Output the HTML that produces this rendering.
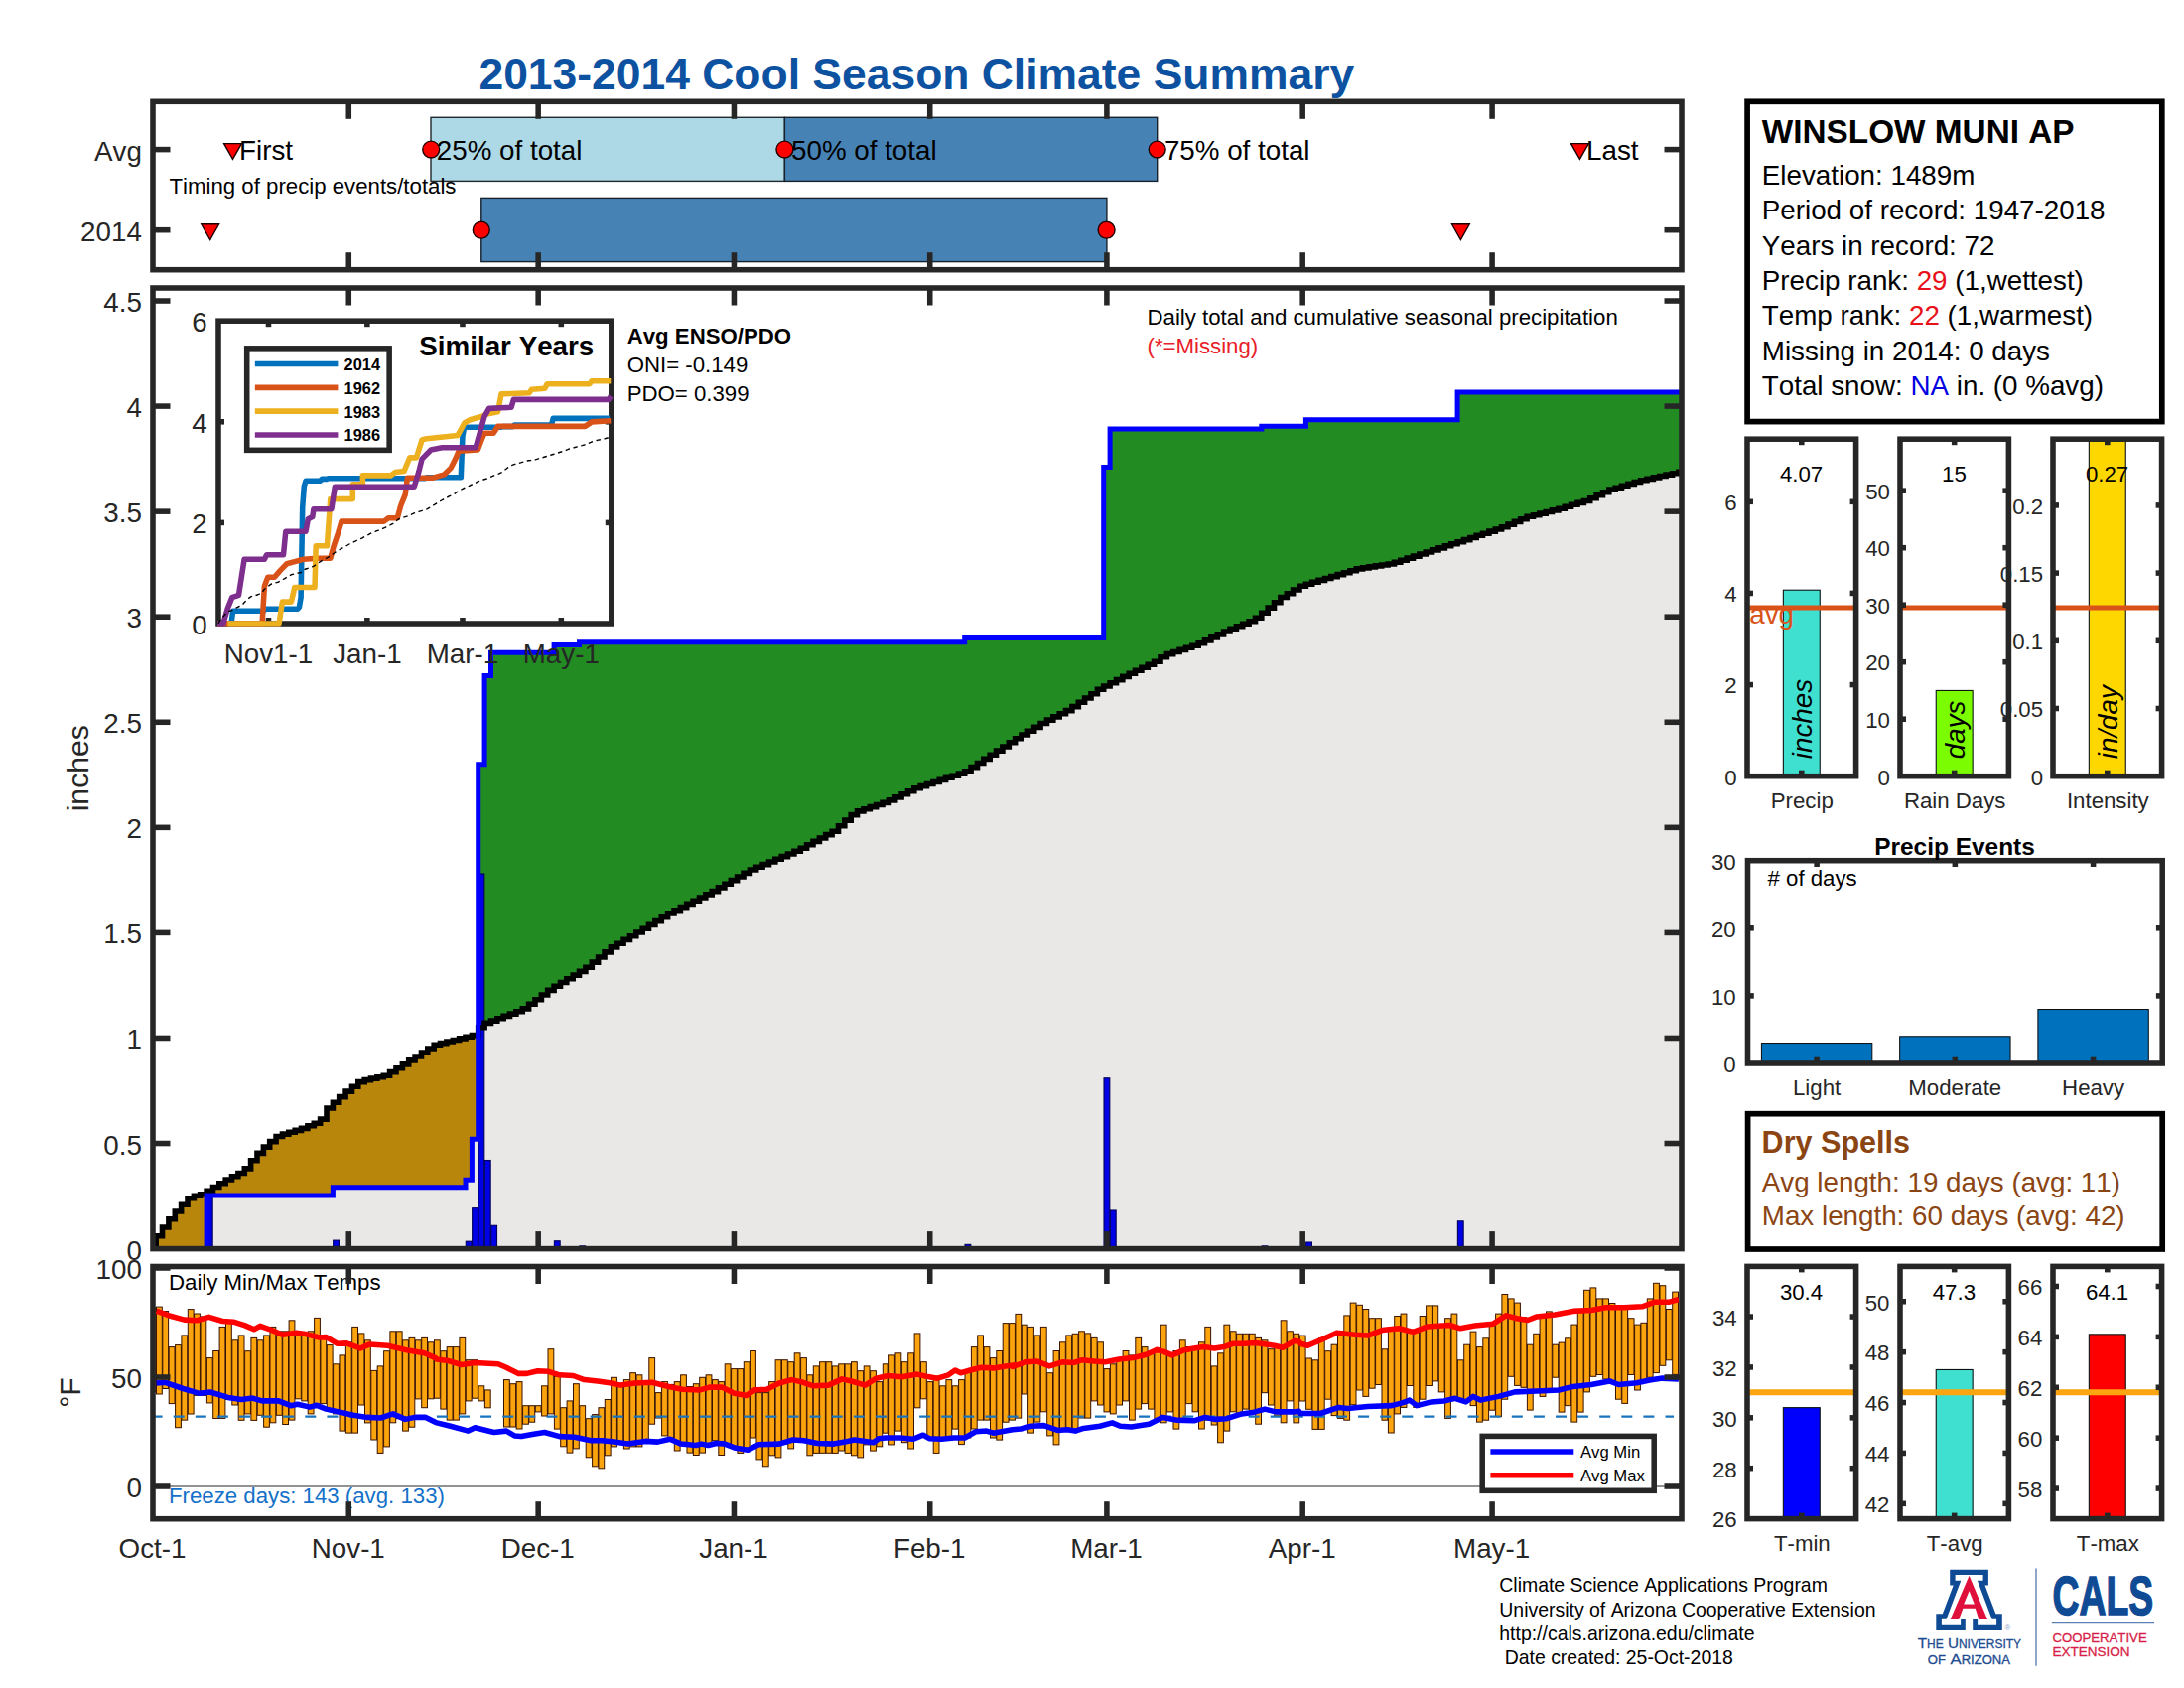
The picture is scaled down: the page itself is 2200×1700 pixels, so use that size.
<!DOCTYPE html>
<html lang="en"><head><meta charset="utf-8"><title>2013-2014 Cool Season Climate Summary</title>
<style>html,body{margin:0;padding:0;background:#fff;}svg{display:block;}</style></head>
<body>
<svg width="2200" height="1700" viewBox="0 0 2200 1700" font-family="'Liberation Sans', sans-serif" style="font-kerning:none">
<rect width="2200" height="1700" fill="#fff"/>
<defs>
<clipPath id="cm"><rect x="154" y="290" width="1540" height="967.6"/></clipPath>
<clipPath id="ct"><rect x="154" y="1275.5" width="1540" height="254.2"/></clipPath>
<clipPath id="ci"><rect x="217.8" y="320.4" width="400.8" height="310.4"/></clipPath>
</defs>
<text x="923.3" y="90.3" font-size="44.44" text-anchor="middle" font-weight="bold" fill="#0D52A0">2013-2014 Cool Season Climate Summary</text>
<g id="top">
<rect x="434.00" y="118.30" width="356.36" height="64.10" fill="#ADD8E6" stroke="#20282c" stroke-width="1.4"/>
<rect x="790.36" y="118.30" width="375.34" height="64.10" fill="#4682B4" stroke="#18222c" stroke-width="1.4"/>
<rect x="484.80" y="199.40" width="630.10" height="64.20" fill="#4682B4" stroke="#18222c" stroke-width="1.4"/>
<path d="M225.6 144.6 L243.4 144.6 L234.5 160.3 Z" fill="#FF0000" stroke="#1c0000" stroke-width="1.4" stroke-linejoin="miter"/>
<text x="241.1" y="161.2" font-size="27.78" fill="#000">First</text>
<circle cx="434.2" cy="150.6" r="8.45" fill="#FF0000" stroke="#200000" stroke-width="1.4"/>
<text x="439.8" y="161.2" font-size="27.78" fill="#000">25% of total</text>
<circle cx="790.4" cy="150.6" r="8.45" fill="#FF0000" stroke="#200000" stroke-width="1.4"/>
<text x="797.0" y="161.2" font-size="27.78" fill="#000">50% of total</text>
<circle cx="1165.7" cy="150.6" r="8.45" fill="#FF0000" stroke="#200000" stroke-width="1.4"/>
<text x="1172.9" y="161.2" font-size="27.78" fill="#000">75% of total</text>
<path d="M1582.5 144.6 L1600.3 144.6 L1591.4 160.3 Z" fill="#FF0000" stroke="#1c0000" stroke-width="1.4" stroke-linejoin="miter"/>
<text x="1598.0" y="161.2" font-size="27.78" fill="#000">Last</text>
<path d="M202.8 225.8 L220.6 225.8 L211.7 241.5 Z" fill="#FF0000" stroke="#1c0000" stroke-width="1.4" stroke-linejoin="miter"/>
<circle cx="484.8" cy="231.7" r="8.45" fill="#FF0000" stroke="#200000" stroke-width="1.4"/>
<circle cx="1114.6" cy="231.7" r="8.45" fill="#FF0000" stroke="#200000" stroke-width="1.4"/>
<path d="M1462.5 225.8 L1480.3 225.8 L1471.4 241.5 Z" fill="#FF0000" stroke="#1c0000" stroke-width="1.4" stroke-linejoin="miter"/>
<text x="170.5" y="195.3" font-size="22.22" fill="#000">Timing of precip events/totals</text>
<line x1="351.27" y1="102.30" x2="351.27" y2="119.80" stroke="#262626" stroke-width="5.56"/>
<line x1="351.27" y1="271.70" x2="351.27" y2="254.20" stroke="#262626" stroke-width="5.56"/>
<line x1="542.18" y1="102.30" x2="542.18" y2="119.80" stroke="#262626" stroke-width="5.56"/>
<line x1="542.18" y1="271.70" x2="542.18" y2="254.20" stroke="#262626" stroke-width="5.56"/>
<line x1="739.45" y1="102.30" x2="739.45" y2="119.80" stroke="#262626" stroke-width="5.56"/>
<line x1="739.45" y1="271.70" x2="739.45" y2="254.20" stroke="#262626" stroke-width="5.56"/>
<line x1="936.73" y1="102.30" x2="936.73" y2="119.80" stroke="#262626" stroke-width="5.56"/>
<line x1="936.73" y1="271.70" x2="936.73" y2="254.20" stroke="#262626" stroke-width="5.56"/>
<line x1="1114.91" y1="102.30" x2="1114.91" y2="119.80" stroke="#262626" stroke-width="5.56"/>
<line x1="1114.91" y1="271.70" x2="1114.91" y2="254.20" stroke="#262626" stroke-width="5.56"/>
<line x1="1312.18" y1="102.30" x2="1312.18" y2="119.80" stroke="#262626" stroke-width="5.56"/>
<line x1="1312.18" y1="271.70" x2="1312.18" y2="254.20" stroke="#262626" stroke-width="5.56"/>
<line x1="1503.09" y1="102.30" x2="1503.09" y2="119.80" stroke="#262626" stroke-width="5.56"/>
<line x1="1503.09" y1="271.70" x2="1503.09" y2="254.20" stroke="#262626" stroke-width="5.56"/>
<line x1="154.00" y1="150.60" x2="171.50" y2="150.60" stroke="#262626" stroke-width="5.56"/>
<line x1="1694.00" y1="150.60" x2="1676.50" y2="150.60" stroke="#262626" stroke-width="5.56"/>
<line x1="154.00" y1="231.70" x2="171.50" y2="231.70" stroke="#262626" stroke-width="5.56"/>
<line x1="1694.00" y1="231.70" x2="1676.50" y2="231.70" stroke="#262626" stroke-width="5.56"/>
<rect x="154.00" y="102.30" width="1540.00" height="169.40" fill="none" stroke="#262626" stroke-width="5.56"/>
<text x="142.9" y="161.5" font-size="27.78" text-anchor="end" fill="#262626">Avg</text>
<text x="142.9" y="242.6" font-size="27.78" text-anchor="end" fill="#262626">2014</text>
</g>
<g id="main">
<g clip-path="url(#cm)">
<path d="M154.0 1257.6 L154.0 1257.6 L157.2 1257.6 L157.2 1257.6 L163.5 1257.6 L163.5 1257.6 L169.9 1257.6 L169.9 1257.6 L176.3 1257.6 L176.3 1257.6 L182.6 1257.6 L182.6 1257.6 L189.0 1257.6 L189.0 1257.6 L195.4 1257.6 L195.4 1257.6 L201.7 1257.6 L201.7 1257.6 L208.1 1257.6 L208.1 1204.1 L214.5 1204.1 L214.5 1204.1 L220.8 1204.1 L220.8 1204.1 L227.2 1204.1 L227.2 1204.1 L233.5 1204.1 L233.5 1204.1 L239.9 1204.1 L239.9 1204.1 L246.3 1204.1 L246.3 1204.1 L252.6 1204.1 L252.6 1204.1 L259.0 1204.1 L259.0 1204.1 L265.4 1204.1 L265.4 1204.1 L271.7 1204.1 L271.7 1204.1 L278.1 1204.1 L278.1 1204.1 L284.5 1204.1 L284.5 1204.1 L290.8 1204.1 L290.8 1204.1 L297.2 1204.1 L297.2 1204.1 L303.5 1204.1 L303.5 1204.1 L309.9 1204.1 L309.9 1204.1 L316.3 1204.1 L316.3 1204.1 L322.6 1204.1 L322.6 1204.1 L329.0 1204.1 L329.0 1204.1 L335.4 1204.1 L335.4 1195.7 L341.7 1195.7 L341.7 1195.7 L348.1 1195.7 L348.1 1195.7 L354.5 1195.7 L354.5 1195.7 L360.8 1195.7 L360.8 1195.7 L367.2 1195.7 L367.2 1195.7 L373.5 1195.7 L373.5 1195.7 L379.9 1195.7 L379.9 1195.7 L386.3 1195.7 L386.3 1195.7 L392.6 1195.7 L392.6 1195.7 L399.0 1195.7 L399.0 1195.7 L405.4 1195.7 L405.4 1195.7 L411.7 1195.7 L411.7 1195.7 L418.1 1195.7 L418.1 1195.7 L424.5 1195.7 L424.5 1195.7 L430.8 1195.7 L430.8 1195.7 L437.2 1195.7 L437.2 1195.7 L443.5 1195.7 L443.5 1195.7 L449.9 1195.7 L449.9 1195.7 L456.3 1195.7 L456.3 1195.7 L462.6 1195.7 L462.6 1195.7 L469.0 1195.7 L469.0 1188.2 L475.4 1188.2 L475.4 1147.3 L481.7 1147.3 L481.7 1034.7 L488.1 1034.7 L488.1 1030.4 L494.5 1030.4 L494.5 1028.1 L500.8 1028.1 L500.8 1025.7 L507.2 1025.7 L507.2 1023.4 L513.5 1023.4 L513.5 1021.1 L519.9 1021.1 L519.9 1018.7 L526.3 1018.7 L526.3 1015.9 L532.6 1015.9 L532.6 1011.3 L539.0 1011.3 L539.0 1006.7 L545.4 1006.7 L545.4 1002.0 L551.7 1002.0 L551.7 997.4 L558.1 997.4 L558.1 993.2 L564.5 993.2 L564.5 989.5 L570.8 989.5 L570.8 985.8 L577.2 985.8 L577.2 982.1 L583.5 982.1 L583.5 978.4 L589.9 978.4 L589.9 974.2 L596.3 974.2 L596.3 969.1 L602.6 969.1 L602.6 964.0 L609.0 964.0 L609.0 958.9 L615.4 958.9 L615.4 953.9 L621.7 953.9 L621.7 950.2 L628.1 950.2 L628.1 946.4 L634.5 946.4 L634.5 942.7 L640.8 942.7 L640.8 939.0 L647.2 939.0 L647.2 935.3 L653.5 935.3 L653.5 931.4 L659.9 931.4 L659.9 927.6 L666.3 927.6 L666.3 923.7 L672.6 923.7 L672.6 919.9 L679.0 919.9 L679.0 916.8 L685.4 916.8 L685.4 913.6 L691.7 913.6 L691.7 910.4 L698.1 910.4 L698.1 907.2 L704.5 907.2 L704.5 904.0 L710.8 904.0 L710.8 900.9 L717.2 900.9 L717.2 897.6 L723.5 897.6 L723.5 893.9 L729.9 893.9 L729.9 890.3 L736.3 890.3 L736.3 886.6 L742.6 886.6 L742.6 883.0 L749.0 883.0 L749.0 879.4 L755.4 879.4 L755.4 876.0 L761.7 876.0 L761.7 873.3 L768.1 873.3 L768.1 870.6 L774.5 870.6 L774.5 868.0 L780.8 868.0 L780.8 865.3 L787.2 865.3 L787.2 862.6 L793.5 862.6 L793.5 860.0 L799.9 860.0 L799.9 857.3 L806.3 857.3 L806.3 854.3 L812.6 854.3 L812.6 850.8 L819.0 850.8 L819.0 847.4 L825.4 847.4 L825.4 844.0 L831.7 844.0 L831.7 840.6 L838.1 840.6 L838.1 837.2 L844.5 837.2 L844.5 831.7 L850.8 831.7 L850.8 826.1 L857.2 826.1 L857.2 820.6 L863.5 820.6 L863.5 816.9 L869.9 816.9 L869.9 814.7 L876.3 814.7 L876.3 812.6 L882.6 812.6 L882.6 810.5 L889.0 810.5 L889.0 808.4 L895.4 808.4 L895.4 805.9 L901.7 805.9 L901.7 802.9 L908.1 802.9 L908.1 799.8 L914.5 799.8 L914.5 796.8 L920.8 796.8 L920.8 793.8 L927.2 793.8 L927.2 791.6 L933.5 791.6 L933.5 789.5 L939.9 789.5 L939.9 787.5 L946.3 787.5 L946.3 785.4 L952.6 785.4 L952.6 783.3 L959.0 783.3 L959.0 781.2 L965.4 781.2 L965.4 779.1 L971.7 779.1 L971.7 776.7 L978.1 776.7 L978.1 772.6 L984.5 772.6 L984.5 768.5 L990.8 768.5 L990.8 764.4 L997.2 764.4 L997.2 760.3 L1003.5 760.3 L1003.5 756.1 L1009.9 756.1 L1009.9 752.0 L1016.3 752.0 L1016.3 747.8 L1022.6 747.8 L1022.6 743.8 L1029.0 743.8 L1029.0 740.0 L1035.4 740.0 L1035.4 736.2 L1041.7 736.2 L1041.7 732.4 L1048.1 732.4 L1048.1 728.5 L1054.5 728.5 L1054.5 725.1 L1060.8 725.1 L1060.8 721.9 L1067.2 721.9 L1067.2 718.8 L1073.5 718.8 L1073.5 715.6 L1079.9 715.6 L1079.9 711.6 L1086.3 711.6 L1086.3 707.3 L1092.6 707.3 L1092.6 703.0 L1099.0 703.0 L1099.0 698.7 L1105.4 698.7 L1105.4 694.3 L1111.7 694.3 L1111.7 691.0 L1118.1 691.0 L1118.1 687.8 L1124.5 687.8 L1124.5 684.6 L1130.8 684.6 L1130.8 681.4 L1137.2 681.4 L1137.2 678.3 L1143.5 678.3 L1143.5 675.3 L1149.9 675.3 L1149.9 672.2 L1156.3 672.2 L1156.3 669.2 L1162.6 669.2 L1162.6 666.2 L1169.0 666.2 L1169.0 661.7 L1175.4 661.7 L1175.4 658.6 L1181.7 658.6 L1181.7 656.5 L1188.1 656.5 L1188.1 654.4 L1194.5 654.4 L1194.5 652.3 L1200.8 652.3 L1200.8 650.2 L1207.2 650.2 L1207.2 647.8 L1213.5 647.8 L1213.5 644.9 L1219.9 644.9 L1219.9 641.9 L1226.3 641.9 L1226.3 638.9 L1232.6 638.9 L1232.6 636.0 L1239.0 636.0 L1239.0 633.3 L1245.4 633.3 L1245.4 630.8 L1251.7 630.8 L1251.7 628.2 L1258.1 628.2 L1258.1 625.7 L1264.5 625.7 L1264.5 622.2 L1270.8 622.2 L1270.8 617.2 L1277.2 617.2 L1277.2 612.1 L1283.5 612.1 L1283.5 606.8 L1289.9 606.8 L1289.9 601.5 L1296.3 601.5 L1296.3 597.8 L1302.6 597.8 L1302.6 594.0 L1309.0 594.0 L1309.0 590.3 L1315.4 590.3 L1315.4 588.2 L1321.7 588.2 L1321.7 586.3 L1328.1 586.3 L1328.1 584.4 L1334.5 584.4 L1334.5 582.5 L1340.8 582.5 L1340.8 580.6 L1347.2 580.6 L1347.2 578.6 L1353.5 578.6 L1353.5 576.7 L1359.9 576.7 L1359.9 574.8 L1366.3 574.8 L1366.3 572.9 L1372.6 572.9 L1372.6 571.9 L1379.0 571.9 L1379.0 570.9 L1385.4 570.9 L1385.4 569.9 L1391.7 569.9 L1391.7 569.0 L1398.1 569.0 L1398.1 568.0 L1404.5 568.0 L1404.5 566.2 L1410.8 566.2 L1410.8 564.2 L1417.2 564.2 L1417.2 562.1 L1423.5 562.1 L1423.5 560.1 L1429.9 560.1 L1429.9 558.0 L1436.3 558.0 L1436.3 556.0 L1442.6 556.0 L1442.6 553.9 L1449.0 553.9 L1449.0 551.9 L1455.4 551.9 L1455.4 549.8 L1461.7 549.8 L1461.7 547.8 L1468.1 547.8 L1468.1 545.7 L1474.5 545.7 L1474.5 543.6 L1480.8 543.6 L1480.8 541.5 L1487.2 541.5 L1487.2 539.3 L1493.5 539.3 L1493.5 537.2 L1499.9 537.2 L1499.9 535.1 L1506.3 535.1 L1506.3 533.0 L1512.6 533.0 L1512.6 530.8 L1519.0 530.8 L1519.0 528.1 L1525.4 528.1 L1525.4 525.4 L1531.7 525.4 L1531.7 522.7 L1538.1 522.7 L1538.1 520.3 L1544.5 520.3 L1544.5 518.7 L1550.8 518.7 L1550.8 517.1 L1557.2 517.1 L1557.2 515.5 L1563.5 515.5 L1563.5 513.9 L1569.9 513.9 L1569.9 512.2 L1576.3 512.2 L1576.3 510.2 L1582.6 510.2 L1582.6 508.3 L1589.0 508.3 L1589.0 506.4 L1595.4 506.4 L1595.4 504.5 L1601.7 504.5 L1601.7 501.8 L1608.1 501.8 L1608.1 498.8 L1614.5 498.8 L1614.5 495.8 L1620.8 495.8 L1620.8 493.1 L1627.2 493.1 L1627.2 491.2 L1633.5 491.2 L1633.5 489.3 L1639.9 489.3 L1639.9 487.4 L1646.3 487.4 L1646.3 485.5 L1652.6 485.5 L1652.6 483.8 L1659.0 483.8 L1659.0 482.4 L1665.4 482.4 L1665.4 480.9 L1671.7 480.9 L1671.7 479.5 L1678.1 479.5 L1678.1 478.1 L1684.5 478.1 L1684.5 476.7 L1690.8 476.7 L1690.8 475.3 L1694.0 475.3 L1694.0 1257.6" fill="#EAE8E6"/>
<path d="M154.0 1257.6 L157.2 1257.6 L157.2 1257.6 L154.0 1257.6" fill="#228B22"/>
<path d="M157.2 1244.8 L163.5 1244.8 L163.5 1236.0 L169.9 1236.0 L169.9 1227.8 L176.3 1227.8 L176.3 1220.0 L182.6 1220.0 L182.6 1213.2 L189.0 1213.2 L189.0 1206.8 L195.4 1206.8 L195.4 1204.2 L201.7 1204.2 L201.7 1202.8 L208.1 1202.8 L208.1 1199.3 L214.5 1199.3 L214.5 1195.5 L220.8 1195.5 L220.8 1191.8 L227.2 1191.8 L227.2 1188.0 L233.5 1188.0 L233.5 1184.7 L239.9 1184.7 L239.9 1181.5 L246.3 1181.5 L246.3 1176.9 L252.6 1176.9 L252.6 1168.8 L259.0 1168.8 L259.0 1161.4 L265.4 1161.4 L265.4 1155.1 L271.7 1155.1 L271.7 1149.6 L278.1 1149.6 L278.1 1144.5 L284.5 1144.5 L284.5 1142.1 L290.8 1142.1 L290.8 1140.3 L297.2 1140.3 L297.2 1138.4 L303.5 1138.4 L303.5 1136.4 L309.9 1136.4 L309.9 1133.8 L316.3 1133.8 L316.3 1131.3 L322.6 1131.3 L322.6 1127.1 L329.0 1127.1 L329.0 1116.0 L335.4 1116.0 L335.4 1110.2 L341.7 1110.2 L341.7 1104.6 L348.1 1104.6 L348.1 1099.1 L354.5 1099.1 L354.5 1094.3 L360.8 1094.3 L360.8 1089.6 L367.2 1089.6 L367.2 1087.6 L373.5 1087.6 L373.5 1086.1 L379.9 1086.1 L379.9 1084.7 L386.3 1084.7 L386.3 1083.2 L392.6 1083.2 L392.6 1079.6 L399.0 1079.6 L399.0 1075.7 L405.4 1075.7 L405.4 1071.9 L411.7 1071.9 L411.7 1067.9 L418.1 1067.9 L418.1 1064.0 L424.5 1064.0 L424.5 1060.0 L430.8 1060.0 L430.8 1056.0 L437.2 1056.0 L437.2 1052.2 L443.5 1052.2 L443.5 1050.6 L449.9 1050.6 L449.9 1049.0 L456.3 1049.0 L456.3 1047.5 L462.6 1047.5 L462.6 1045.9 L469.0 1045.9 L469.0 1044.3 L475.4 1044.3 L475.4 1042.6 L481.7 1042.6 L481.7 1147.3 L475.4 1147.3 L475.4 1188.2 L469.0 1188.2 L469.0 1195.7 L462.6 1195.7 L462.6 1195.7 L456.3 1195.7 L456.3 1195.7 L449.9 1195.7 L449.9 1195.7 L443.5 1195.7 L443.5 1195.7 L437.2 1195.7 L437.2 1195.7 L430.8 1195.7 L430.8 1195.7 L424.5 1195.7 L424.5 1195.7 L418.1 1195.7 L418.1 1195.7 L411.7 1195.7 L411.7 1195.7 L405.4 1195.7 L405.4 1195.7 L399.0 1195.7 L399.0 1195.7 L392.6 1195.7 L392.6 1195.7 L386.3 1195.7 L386.3 1195.7 L379.9 1195.7 L379.9 1195.7 L373.5 1195.7 L373.5 1195.7 L367.2 1195.7 L367.2 1195.7 L360.8 1195.7 L360.8 1195.7 L354.5 1195.7 L354.5 1195.7 L348.1 1195.7 L348.1 1195.7 L341.7 1195.7 L341.7 1195.7 L335.4 1195.7 L335.4 1204.1 L329.0 1204.1 L329.0 1204.1 L322.6 1204.1 L322.6 1204.1 L316.3 1204.1 L316.3 1204.1 L309.9 1204.1 L309.9 1204.1 L303.5 1204.1 L303.5 1204.1 L297.2 1204.1 L297.2 1204.1 L290.8 1204.1 L290.8 1204.1 L284.5 1204.1 L284.5 1204.1 L278.1 1204.1 L278.1 1204.1 L271.7 1204.1 L271.7 1204.1 L265.4 1204.1 L265.4 1204.1 L259.0 1204.1 L259.0 1204.1 L252.6 1204.1 L252.6 1204.1 L246.3 1204.1 L246.3 1204.1 L239.9 1204.1 L239.9 1204.1 L233.5 1204.1 L233.5 1204.1 L227.2 1204.1 L227.2 1204.1 L220.8 1204.1 L220.8 1204.1 L214.5 1204.1 L214.5 1204.1 L208.1 1204.1 L208.1 1257.6 L201.7 1257.6 L201.7 1257.6 L195.4 1257.6 L195.4 1257.6 L189.0 1257.6 L189.0 1257.6 L182.6 1257.6 L182.6 1257.6 L176.3 1257.6 L176.3 1257.6 L169.9 1257.6 L169.9 1257.6 L163.5 1257.6 L163.5 1257.6 L157.2 1257.6" fill="#B8860B"/>
<path d="M481.7 769.7 L488.1 769.7 L488.1 680.6 L494.5 680.6 L494.5 657.3 L500.8 657.3 L500.8 657.3 L507.2 657.3 L507.2 657.3 L513.5 657.3 L513.5 657.3 L519.9 657.3 L519.9 657.3 L526.3 657.3 L526.3 657.3 L532.6 657.3 L532.6 657.3 L539.0 657.3 L539.0 657.3 L545.4 657.3 L545.4 657.3 L551.7 657.3 L551.7 657.3 L558.1 657.3 L558.1 649.4 L564.5 649.4 L564.5 649.4 L570.8 649.4 L570.8 649.4 L577.2 649.4 L577.2 649.4 L583.5 649.4 L583.5 646.7 L589.9 646.7 L589.9 646.7 L596.3 646.7 L596.3 646.7 L602.6 646.7 L602.6 646.7 L609.0 646.7 L609.0 646.7 L615.4 646.7 L615.4 646.7 L621.7 646.7 L621.7 646.7 L628.1 646.7 L628.1 646.7 L634.5 646.7 L634.5 646.7 L640.8 646.7 L640.8 646.7 L647.2 646.7 L647.2 646.7 L653.5 646.7 L653.5 646.7 L659.9 646.7 L659.9 646.7 L666.3 646.7 L666.3 646.7 L672.6 646.7 L672.6 646.7 L679.0 646.7 L679.0 646.7 L685.4 646.7 L685.4 646.7 L691.7 646.7 L691.7 646.7 L698.1 646.7 L698.1 646.7 L704.5 646.7 L704.5 646.7 L710.8 646.7 L710.8 646.7 L717.2 646.7 L717.2 646.7 L723.5 646.7 L723.5 646.7 L729.9 646.7 L729.9 646.7 L736.3 646.7 L736.3 646.7 L742.6 646.7 L742.6 646.7 L749.0 646.7 L749.0 646.7 L755.4 646.7 L755.4 646.7 L761.7 646.7 L761.7 646.7 L768.1 646.7 L768.1 646.7 L774.5 646.7 L774.5 646.7 L780.8 646.7 L780.8 646.7 L787.2 646.7 L787.2 646.7 L793.5 646.7 L793.5 646.7 L799.9 646.7 L799.9 646.7 L806.3 646.7 L806.3 646.7 L812.6 646.7 L812.6 646.7 L819.0 646.7 L819.0 646.7 L825.4 646.7 L825.4 646.7 L831.7 646.7 L831.7 646.7 L838.1 646.7 L838.1 646.7 L844.5 646.7 L844.5 646.7 L850.8 646.7 L850.8 646.7 L857.2 646.7 L857.2 646.7 L863.5 646.7 L863.5 646.7 L869.9 646.7 L869.9 646.7 L876.3 646.7 L876.3 646.7 L882.6 646.7 L882.6 646.7 L889.0 646.7 L889.0 646.7 L895.4 646.7 L895.4 646.7 L901.7 646.7 L901.7 646.7 L908.1 646.7 L908.1 646.7 L914.5 646.7 L914.5 646.7 L920.8 646.7 L920.8 646.7 L927.2 646.7 L927.2 646.7 L933.5 646.7 L933.5 646.7 L939.9 646.7 L939.9 646.7 L946.3 646.7 L946.3 646.7 L952.6 646.7 L952.6 646.7 L959.0 646.7 L959.0 646.7 L965.4 646.7 L965.4 646.7 L971.7 646.7 L971.7 642.4 L978.1 642.4 L978.1 642.4 L984.5 642.4 L984.5 642.4 L990.8 642.4 L990.8 642.4 L997.2 642.4 L997.2 642.4 L1003.5 642.4 L1003.5 642.4 L1009.9 642.4 L1009.9 642.4 L1016.3 642.4 L1016.3 642.4 L1022.6 642.4 L1022.6 642.4 L1029.0 642.4 L1029.0 642.4 L1035.4 642.4 L1035.4 642.4 L1041.7 642.4 L1041.7 642.4 L1048.1 642.4 L1048.1 642.4 L1054.5 642.4 L1054.5 642.4 L1060.8 642.4 L1060.8 642.4 L1067.2 642.4 L1067.2 642.4 L1073.5 642.4 L1073.5 642.4 L1079.9 642.4 L1079.9 642.4 L1086.3 642.4 L1086.3 642.4 L1092.6 642.4 L1092.6 642.4 L1099.0 642.4 L1099.0 642.4 L1105.4 642.4 L1105.4 642.4 L1111.7 642.4 L1111.7 470.6 L1118.1 470.6 L1118.1 432.0 L1124.5 432.0 L1124.5 432.0 L1130.8 432.0 L1130.8 432.0 L1137.2 432.0 L1137.2 432.0 L1143.5 432.0 L1143.5 432.0 L1149.9 432.0 L1149.9 432.0 L1156.3 432.0 L1156.3 432.0 L1162.6 432.0 L1162.6 432.0 L1169.0 432.0 L1169.0 432.0 L1175.4 432.0 L1175.4 432.0 L1181.7 432.0 L1181.7 432.0 L1188.1 432.0 L1188.1 432.0 L1194.5 432.0 L1194.5 432.0 L1200.8 432.0 L1200.8 432.0 L1207.2 432.0 L1207.2 432.0 L1213.5 432.0 L1213.5 432.0 L1219.9 432.0 L1219.9 432.0 L1226.3 432.0 L1226.3 432.0 L1232.6 432.0 L1232.6 432.0 L1239.0 432.0 L1239.0 432.0 L1245.4 432.0 L1245.4 432.0 L1251.7 432.0 L1251.7 432.0 L1258.1 432.0 L1258.1 432.0 L1264.5 432.0 L1264.5 432.0 L1270.8 432.0 L1270.8 429.2 L1277.2 429.2 L1277.2 429.2 L1283.5 429.2 L1283.5 429.2 L1289.9 429.2 L1289.9 429.2 L1296.3 429.2 L1296.3 429.2 L1302.6 429.2 L1302.6 429.2 L1309.0 429.2 L1309.0 429.2 L1315.4 429.2 L1315.4 422.7 L1321.7 422.7 L1321.7 422.7 L1328.1 422.7 L1328.1 422.7 L1334.5 422.7 L1334.5 422.7 L1340.8 422.7 L1340.8 422.7 L1347.2 422.7 L1347.2 422.7 L1353.5 422.7 L1353.5 422.7 L1359.9 422.7 L1359.9 422.7 L1366.3 422.7 L1366.3 422.7 L1372.6 422.7 L1372.6 422.7 L1379.0 422.7 L1379.0 422.7 L1385.4 422.7 L1385.4 422.7 L1391.7 422.7 L1391.7 422.7 L1398.1 422.7 L1398.1 422.7 L1404.5 422.7 L1404.5 422.7 L1410.8 422.7 L1410.8 422.7 L1417.2 422.7 L1417.2 422.7 L1423.5 422.7 L1423.5 422.7 L1429.9 422.7 L1429.9 422.7 L1436.3 422.7 L1436.3 422.7 L1442.6 422.7 L1442.6 422.7 L1449.0 422.7 L1449.0 422.7 L1455.4 422.7 L1455.4 422.7 L1461.7 422.7 L1461.7 422.7 L1468.1 422.7 L1468.1 394.9 L1474.5 394.9 L1474.5 394.9 L1480.8 394.9 L1480.8 394.9 L1487.2 394.9 L1487.2 394.9 L1493.5 394.9 L1493.5 394.9 L1499.9 394.9 L1499.9 394.9 L1506.3 394.9 L1506.3 394.9 L1512.6 394.9 L1512.6 394.9 L1519.0 394.9 L1519.0 394.9 L1525.4 394.9 L1525.4 394.9 L1531.7 394.9 L1531.7 394.9 L1538.1 394.9 L1538.1 394.9 L1544.5 394.9 L1544.5 394.9 L1550.8 394.9 L1550.8 394.9 L1557.2 394.9 L1557.2 394.9 L1563.5 394.9 L1563.5 394.9 L1569.9 394.9 L1569.9 394.9 L1576.3 394.9 L1576.3 394.9 L1582.6 394.9 L1582.6 394.9 L1589.0 394.9 L1589.0 394.9 L1595.4 394.9 L1595.4 394.9 L1601.7 394.9 L1601.7 394.9 L1608.1 394.9 L1608.1 394.9 L1614.5 394.9 L1614.5 394.9 L1620.8 394.9 L1620.8 394.9 L1627.2 394.9 L1627.2 394.9 L1633.5 394.9 L1633.5 394.9 L1639.9 394.9 L1639.9 394.9 L1646.3 394.9 L1646.3 394.9 L1652.6 394.9 L1652.6 394.9 L1659.0 394.9 L1659.0 394.9 L1665.4 394.9 L1665.4 394.9 L1671.7 394.9 L1671.7 394.9 L1678.1 394.9 L1678.1 394.9 L1684.5 394.9 L1684.5 394.9 L1690.8 394.9 L1690.8 394.9 L1694.0 394.9 L1694.0 475.3 L1690.8 475.3 L1690.8 476.7 L1684.5 476.7 L1684.5 478.1 L1678.1 478.1 L1678.1 479.5 L1671.7 479.5 L1671.7 480.9 L1665.4 480.9 L1665.4 482.4 L1659.0 482.4 L1659.0 483.8 L1652.6 483.8 L1652.6 485.5 L1646.3 485.5 L1646.3 487.4 L1639.9 487.4 L1639.9 489.3 L1633.5 489.3 L1633.5 491.2 L1627.2 491.2 L1627.2 493.1 L1620.8 493.1 L1620.8 495.8 L1614.5 495.8 L1614.5 498.8 L1608.1 498.8 L1608.1 501.8 L1601.7 501.8 L1601.7 504.5 L1595.4 504.5 L1595.4 506.4 L1589.0 506.4 L1589.0 508.3 L1582.6 508.3 L1582.6 510.2 L1576.3 510.2 L1576.3 512.2 L1569.9 512.2 L1569.9 513.9 L1563.5 513.9 L1563.5 515.5 L1557.2 515.5 L1557.2 517.1 L1550.8 517.1 L1550.8 518.7 L1544.5 518.7 L1544.5 520.3 L1538.1 520.3 L1538.1 522.7 L1531.7 522.7 L1531.7 525.4 L1525.4 525.4 L1525.4 528.1 L1519.0 528.1 L1519.0 530.8 L1512.6 530.8 L1512.6 533.0 L1506.3 533.0 L1506.3 535.1 L1499.9 535.1 L1499.9 537.2 L1493.5 537.2 L1493.5 539.3 L1487.2 539.3 L1487.2 541.5 L1480.8 541.5 L1480.8 543.6 L1474.5 543.6 L1474.5 545.7 L1468.1 545.7 L1468.1 547.8 L1461.7 547.8 L1461.7 549.8 L1455.4 549.8 L1455.4 551.9 L1449.0 551.9 L1449.0 553.9 L1442.6 553.9 L1442.6 556.0 L1436.3 556.0 L1436.3 558.0 L1429.9 558.0 L1429.9 560.1 L1423.5 560.1 L1423.5 562.1 L1417.2 562.1 L1417.2 564.2 L1410.8 564.2 L1410.8 566.2 L1404.5 566.2 L1404.5 568.0 L1398.1 568.0 L1398.1 569.0 L1391.7 569.0 L1391.7 569.9 L1385.4 569.9 L1385.4 570.9 L1379.0 570.9 L1379.0 571.9 L1372.6 571.9 L1372.6 572.9 L1366.3 572.9 L1366.3 574.8 L1359.9 574.8 L1359.9 576.7 L1353.5 576.7 L1353.5 578.6 L1347.2 578.6 L1347.2 580.6 L1340.8 580.6 L1340.8 582.5 L1334.5 582.5 L1334.5 584.4 L1328.1 584.4 L1328.1 586.3 L1321.7 586.3 L1321.7 588.2 L1315.4 588.2 L1315.4 590.3 L1309.0 590.3 L1309.0 594.0 L1302.6 594.0 L1302.6 597.8 L1296.3 597.8 L1296.3 601.5 L1289.9 601.5 L1289.9 606.8 L1283.5 606.8 L1283.5 612.1 L1277.2 612.1 L1277.2 617.2 L1270.8 617.2 L1270.8 622.2 L1264.5 622.2 L1264.5 625.7 L1258.1 625.7 L1258.1 628.2 L1251.7 628.2 L1251.7 630.8 L1245.4 630.8 L1245.4 633.3 L1239.0 633.3 L1239.0 636.0 L1232.6 636.0 L1232.6 638.9 L1226.3 638.9 L1226.3 641.9 L1219.9 641.9 L1219.9 644.9 L1213.5 644.9 L1213.5 647.8 L1207.2 647.8 L1207.2 650.2 L1200.8 650.2 L1200.8 652.3 L1194.5 652.3 L1194.5 654.4 L1188.1 654.4 L1188.1 656.5 L1181.7 656.5 L1181.7 658.6 L1175.4 658.6 L1175.4 661.7 L1169.0 661.7 L1169.0 666.2 L1162.6 666.2 L1162.6 669.2 L1156.3 669.2 L1156.3 672.2 L1149.9 672.2 L1149.9 675.3 L1143.5 675.3 L1143.5 678.3 L1137.2 678.3 L1137.2 681.4 L1130.8 681.4 L1130.8 684.6 L1124.5 684.6 L1124.5 687.8 L1118.1 687.8 L1118.1 691.0 L1111.7 691.0 L1111.7 694.3 L1105.4 694.3 L1105.4 698.7 L1099.0 698.7 L1099.0 703.0 L1092.6 703.0 L1092.6 707.3 L1086.3 707.3 L1086.3 711.6 L1079.9 711.6 L1079.9 715.6 L1073.5 715.6 L1073.5 718.8 L1067.2 718.8 L1067.2 721.9 L1060.8 721.9 L1060.8 725.1 L1054.5 725.1 L1054.5 728.5 L1048.1 728.5 L1048.1 732.4 L1041.7 732.4 L1041.7 736.2 L1035.4 736.2 L1035.4 740.0 L1029.0 740.0 L1029.0 743.8 L1022.6 743.8 L1022.6 747.8 L1016.3 747.8 L1016.3 752.0 L1009.9 752.0 L1009.9 756.1 L1003.5 756.1 L1003.5 760.3 L997.2 760.3 L997.2 764.4 L990.8 764.4 L990.8 768.5 L984.5 768.5 L984.5 772.6 L978.1 772.6 L978.1 776.7 L971.7 776.7 L971.7 779.1 L965.4 779.1 L965.4 781.2 L959.0 781.2 L959.0 783.3 L952.6 783.3 L952.6 785.4 L946.3 785.4 L946.3 787.5 L939.9 787.5 L939.9 789.5 L933.5 789.5 L933.5 791.6 L927.2 791.6 L927.2 793.8 L920.8 793.8 L920.8 796.8 L914.5 796.8 L914.5 799.8 L908.1 799.8 L908.1 802.9 L901.7 802.9 L901.7 805.9 L895.4 805.9 L895.4 808.4 L889.0 808.4 L889.0 810.5 L882.6 810.5 L882.6 812.6 L876.3 812.6 L876.3 814.7 L869.9 814.7 L869.9 816.9 L863.5 816.9 L863.5 820.6 L857.2 820.6 L857.2 826.1 L850.8 826.1 L850.8 831.7 L844.5 831.7 L844.5 837.2 L838.1 837.2 L838.1 840.6 L831.7 840.6 L831.7 844.0 L825.4 844.0 L825.4 847.4 L819.0 847.4 L819.0 850.8 L812.6 850.8 L812.6 854.3 L806.3 854.3 L806.3 857.3 L799.9 857.3 L799.9 860.0 L793.5 860.0 L793.5 862.6 L787.2 862.6 L787.2 865.3 L780.8 865.3 L780.8 868.0 L774.5 868.0 L774.5 870.6 L768.1 870.6 L768.1 873.3 L761.7 873.3 L761.7 876.0 L755.4 876.0 L755.4 879.4 L749.0 879.4 L749.0 883.0 L742.6 883.0 L742.6 886.6 L736.3 886.6 L736.3 890.3 L729.9 890.3 L729.9 893.9 L723.5 893.9 L723.5 897.6 L717.2 897.6 L717.2 900.9 L710.8 900.9 L710.8 904.0 L704.5 904.0 L704.5 907.2 L698.1 907.2 L698.1 910.4 L691.7 910.4 L691.7 913.6 L685.4 913.6 L685.4 916.8 L679.0 916.8 L679.0 919.9 L672.6 919.9 L672.6 923.7 L666.3 923.7 L666.3 927.6 L659.9 927.6 L659.9 931.4 L653.5 931.4 L653.5 935.3 L647.2 935.3 L647.2 939.0 L640.8 939.0 L640.8 942.7 L634.5 942.7 L634.5 946.4 L628.1 946.4 L628.1 950.2 L621.7 950.2 L621.7 953.9 L615.4 953.9 L615.4 958.9 L609.0 958.9 L609.0 964.0 L602.6 964.0 L602.6 969.1 L596.3 969.1 L596.3 974.2 L589.9 974.2 L589.9 978.4 L583.5 978.4 L583.5 982.1 L577.2 982.1 L577.2 985.8 L570.8 985.8 L570.8 989.5 L564.5 989.5 L564.5 993.2 L558.1 993.2 L558.1 997.4 L551.7 997.4 L551.7 1002.0 L545.4 1002.0 L545.4 1006.7 L539.0 1006.7 L539.0 1011.3 L532.6 1011.3 L532.6 1015.9 L526.3 1015.9 L526.3 1018.7 L519.9 1018.7 L519.9 1021.1 L513.5 1021.1 L513.5 1023.4 L507.2 1023.4 L507.2 1025.7 L500.8 1025.7 L500.8 1028.1 L494.5 1028.1 L494.5 1030.4 L488.1 1030.4 L488.1 1034.7 L481.7 1034.7" fill="#228B22"/>
<rect x="208.37" y="1204.14" width="5.80" height="53.46" fill="#0000E6" stroke="#000058" stroke-width="1.1"/>
<rect x="335.65" y="1249.11" width="5.80" height="8.49" fill="#0000E6" stroke="#000058" stroke-width="1.1"/>
<rect x="469.28" y="1250.18" width="5.80" height="7.42" fill="#0000E6" stroke="#000058" stroke-width="1.1"/>
<rect x="475.65" y="1216.66" width="5.80" height="40.94" fill="#0000E6" stroke="#000058" stroke-width="1.1"/>
<rect x="482.01" y="880.01" width="5.80" height="377.59" fill="#0000E6" stroke="#000058" stroke-width="1.1"/>
<rect x="488.37" y="1168.51" width="5.80" height="89.09" fill="#0000E6" stroke="#000058" stroke-width="1.1"/>
<rect x="494.74" y="1234.27" width="5.80" height="23.33" fill="#0000E6" stroke="#000058" stroke-width="1.1"/>
<rect x="558.37" y="1249.75" width="5.80" height="7.85" fill="#0000E6" stroke="#000058" stroke-width="1.1"/>
<rect x="583.83" y="1254.84" width="5.80" height="2.76" fill="#0000E6" stroke="#000058" stroke-width="1.1"/>
<rect x="972.01" y="1253.36" width="5.80" height="4.24" fill="#0000E6" stroke="#000058" stroke-width="1.1"/>
<rect x="1112.01" y="1085.77" width="5.80" height="171.83" fill="#0000E6" stroke="#000058" stroke-width="1.1"/>
<rect x="1118.37" y="1218.99" width="5.80" height="38.61" fill="#0000E6" stroke="#000058" stroke-width="1.1"/>
<rect x="1271.10" y="1254.84" width="5.80" height="2.76" fill="#0000E6" stroke="#000058" stroke-width="1.1"/>
<rect x="1315.65" y="1251.02" width="5.80" height="6.58" fill="#0000E6" stroke="#000058" stroke-width="1.1"/>
<rect x="1468.37" y="1229.81" width="5.80" height="27.79" fill="#0000E6" stroke="#000058" stroke-width="1.1"/>
<path d="M154.0 1257.6 L157.2 1257.6 L157.2 1244.8 L163.5 1244.8 L163.5 1236.0 L169.9 1236.0 L169.9 1227.8 L176.3 1227.8 L176.3 1220.0 L182.6 1220.0 L182.6 1213.2 L189.0 1213.2 L189.0 1206.8 L195.4 1206.8 L195.4 1204.2 L201.7 1204.2 L201.7 1202.8 L208.1 1202.8 L208.1 1199.3 L214.5 1199.3 L214.5 1195.5 L220.8 1195.5 L220.8 1191.8 L227.2 1191.8 L227.2 1188.0 L233.5 1188.0 L233.5 1184.7 L239.9 1184.7 L239.9 1181.5 L246.3 1181.5 L246.3 1176.9 L252.6 1176.9 L252.6 1168.8 L259.0 1168.8 L259.0 1161.4 L265.4 1161.4 L265.4 1155.1 L271.7 1155.1 L271.7 1149.6 L278.1 1149.6 L278.1 1144.5 L284.5 1144.5 L284.5 1142.1 L290.8 1142.1 L290.8 1140.3 L297.2 1140.3 L297.2 1138.4 L303.5 1138.4 L303.5 1136.4 L309.9 1136.4 L309.9 1133.8 L316.3 1133.8 L316.3 1131.3 L322.6 1131.3 L322.6 1127.1 L329.0 1127.1 L329.0 1116.0 L335.4 1116.0 L335.4 1110.2 L341.7 1110.2 L341.7 1104.6 L348.1 1104.6 L348.1 1099.1 L354.5 1099.1 L354.5 1094.3 L360.8 1094.3 L360.8 1089.6 L367.2 1089.6 L367.2 1087.6 L373.5 1087.6 L373.5 1086.1 L379.9 1086.1 L379.9 1084.7 L386.3 1084.7 L386.3 1083.2 L392.6 1083.2 L392.6 1079.6 L399.0 1079.6 L399.0 1075.7 L405.4 1075.7 L405.4 1071.9 L411.7 1071.9 L411.7 1067.9 L418.1 1067.9 L418.1 1064.0 L424.5 1064.0 L424.5 1060.0 L430.8 1060.0 L430.8 1056.0 L437.2 1056.0 L437.2 1052.2 L443.5 1052.2 L443.5 1050.6 L449.9 1050.6 L449.9 1049.0 L456.3 1049.0 L456.3 1047.5 L462.6 1047.5 L462.6 1045.9 L469.0 1045.9 L469.0 1044.3 L475.4 1044.3 L475.4 1042.6 L481.7 1042.6 L481.7 1034.7 L488.1 1034.7 L488.1 1030.4 L494.5 1030.4 L494.5 1028.1 L500.8 1028.1 L500.8 1025.7 L507.2 1025.7 L507.2 1023.4 L513.5 1023.4 L513.5 1021.1 L519.9 1021.1 L519.9 1018.7 L526.3 1018.7 L526.3 1015.9 L532.6 1015.9 L532.6 1011.3 L539.0 1011.3 L539.0 1006.7 L545.4 1006.7 L545.4 1002.0 L551.7 1002.0 L551.7 997.4 L558.1 997.4 L558.1 993.2 L564.5 993.2 L564.5 989.5 L570.8 989.5 L570.8 985.8 L577.2 985.8 L577.2 982.1 L583.5 982.1 L583.5 978.4 L589.9 978.4 L589.9 974.2 L596.3 974.2 L596.3 969.1 L602.6 969.1 L602.6 964.0 L609.0 964.0 L609.0 958.9 L615.4 958.9 L615.4 953.9 L621.7 953.9 L621.7 950.2 L628.1 950.2 L628.1 946.4 L634.5 946.4 L634.5 942.7 L640.8 942.7 L640.8 939.0 L647.2 939.0 L647.2 935.3 L653.5 935.3 L653.5 931.4 L659.9 931.4 L659.9 927.6 L666.3 927.6 L666.3 923.7 L672.6 923.7 L672.6 919.9 L679.0 919.9 L679.0 916.8 L685.4 916.8 L685.4 913.6 L691.7 913.6 L691.7 910.4 L698.1 910.4 L698.1 907.2 L704.5 907.2 L704.5 904.0 L710.8 904.0 L710.8 900.9 L717.2 900.9 L717.2 897.6 L723.5 897.6 L723.5 893.9 L729.9 893.9 L729.9 890.3 L736.3 890.3 L736.3 886.6 L742.6 886.6 L742.6 883.0 L749.0 883.0 L749.0 879.4 L755.4 879.4 L755.4 876.0 L761.7 876.0 L761.7 873.3 L768.1 873.3 L768.1 870.6 L774.5 870.6 L774.5 868.0 L780.8 868.0 L780.8 865.3 L787.2 865.3 L787.2 862.6 L793.5 862.6 L793.5 860.0 L799.9 860.0 L799.9 857.3 L806.3 857.3 L806.3 854.3 L812.6 854.3 L812.6 850.8 L819.0 850.8 L819.0 847.4 L825.4 847.4 L825.4 844.0 L831.7 844.0 L831.7 840.6 L838.1 840.6 L838.1 837.2 L844.5 837.2 L844.5 831.7 L850.8 831.7 L850.8 826.1 L857.2 826.1 L857.2 820.6 L863.5 820.6 L863.5 816.9 L869.9 816.9 L869.9 814.7 L876.3 814.7 L876.3 812.6 L882.6 812.6 L882.6 810.5 L889.0 810.5 L889.0 808.4 L895.4 808.4 L895.4 805.9 L901.7 805.9 L901.7 802.9 L908.1 802.9 L908.1 799.8 L914.5 799.8 L914.5 796.8 L920.8 796.8 L920.8 793.8 L927.2 793.8 L927.2 791.6 L933.5 791.6 L933.5 789.5 L939.9 789.5 L939.9 787.5 L946.3 787.5 L946.3 785.4 L952.6 785.4 L952.6 783.3 L959.0 783.3 L959.0 781.2 L965.4 781.2 L965.4 779.1 L971.7 779.1 L971.7 776.7 L978.1 776.7 L978.1 772.6 L984.5 772.6 L984.5 768.5 L990.8 768.5 L990.8 764.4 L997.2 764.4 L997.2 760.3 L1003.5 760.3 L1003.5 756.1 L1009.9 756.1 L1009.9 752.0 L1016.3 752.0 L1016.3 747.8 L1022.6 747.8 L1022.6 743.8 L1029.0 743.8 L1029.0 740.0 L1035.4 740.0 L1035.4 736.2 L1041.7 736.2 L1041.7 732.4 L1048.1 732.4 L1048.1 728.5 L1054.5 728.5 L1054.5 725.1 L1060.8 725.1 L1060.8 721.9 L1067.2 721.9 L1067.2 718.8 L1073.5 718.8 L1073.5 715.6 L1079.9 715.6 L1079.9 711.6 L1086.3 711.6 L1086.3 707.3 L1092.6 707.3 L1092.6 703.0 L1099.0 703.0 L1099.0 698.7 L1105.4 698.7 L1105.4 694.3 L1111.7 694.3 L1111.7 691.0 L1118.1 691.0 L1118.1 687.8 L1124.5 687.8 L1124.5 684.6 L1130.8 684.6 L1130.8 681.4 L1137.2 681.4 L1137.2 678.3 L1143.5 678.3 L1143.5 675.3 L1149.9 675.3 L1149.9 672.2 L1156.3 672.2 L1156.3 669.2 L1162.6 669.2 L1162.6 666.2 L1169.0 666.2 L1169.0 661.7 L1175.4 661.7 L1175.4 658.6 L1181.7 658.6 L1181.7 656.5 L1188.1 656.5 L1188.1 654.4 L1194.5 654.4 L1194.5 652.3 L1200.8 652.3 L1200.8 650.2 L1207.2 650.2 L1207.2 647.8 L1213.5 647.8 L1213.5 644.9 L1219.9 644.9 L1219.9 641.9 L1226.3 641.9 L1226.3 638.9 L1232.6 638.9 L1232.6 636.0 L1239.0 636.0 L1239.0 633.3 L1245.4 633.3 L1245.4 630.8 L1251.7 630.8 L1251.7 628.2 L1258.1 628.2 L1258.1 625.7 L1264.5 625.7 L1264.5 622.2 L1270.8 622.2 L1270.8 617.2 L1277.2 617.2 L1277.2 612.1 L1283.5 612.1 L1283.5 606.8 L1289.9 606.8 L1289.9 601.5 L1296.3 601.5 L1296.3 597.8 L1302.6 597.8 L1302.6 594.0 L1309.0 594.0 L1309.0 590.3 L1315.4 590.3 L1315.4 588.2 L1321.7 588.2 L1321.7 586.3 L1328.1 586.3 L1328.1 584.4 L1334.5 584.4 L1334.5 582.5 L1340.8 582.5 L1340.8 580.6 L1347.2 580.6 L1347.2 578.6 L1353.5 578.6 L1353.5 576.7 L1359.9 576.7 L1359.9 574.8 L1366.3 574.8 L1366.3 572.9 L1372.6 572.9 L1372.6 571.9 L1379.0 571.9 L1379.0 570.9 L1385.4 570.9 L1385.4 569.9 L1391.7 569.9 L1391.7 569.0 L1398.1 569.0 L1398.1 568.0 L1404.5 568.0 L1404.5 566.2 L1410.8 566.2 L1410.8 564.2 L1417.2 564.2 L1417.2 562.1 L1423.5 562.1 L1423.5 560.1 L1429.9 560.1 L1429.9 558.0 L1436.3 558.0 L1436.3 556.0 L1442.6 556.0 L1442.6 553.9 L1449.0 553.9 L1449.0 551.9 L1455.4 551.9 L1455.4 549.8 L1461.7 549.8 L1461.7 547.8 L1468.1 547.8 L1468.1 545.7 L1474.5 545.7 L1474.5 543.6 L1480.8 543.6 L1480.8 541.5 L1487.2 541.5 L1487.2 539.3 L1493.5 539.3 L1493.5 537.2 L1499.9 537.2 L1499.9 535.1 L1506.3 535.1 L1506.3 533.0 L1512.6 533.0 L1512.6 530.8 L1519.0 530.8 L1519.0 528.1 L1525.4 528.1 L1525.4 525.4 L1531.7 525.4 L1531.7 522.7 L1538.1 522.7 L1538.1 520.3 L1544.5 520.3 L1544.5 518.7 L1550.8 518.7 L1550.8 517.1 L1557.2 517.1 L1557.2 515.5 L1563.5 515.5 L1563.5 513.9 L1569.9 513.9 L1569.9 512.2 L1576.3 512.2 L1576.3 510.2 L1582.6 510.2 L1582.6 508.3 L1589.0 508.3 L1589.0 506.4 L1595.4 506.4 L1595.4 504.5 L1601.7 504.5 L1601.7 501.8 L1608.1 501.8 L1608.1 498.8 L1614.5 498.8 L1614.5 495.8 L1620.8 495.8 L1620.8 493.1 L1627.2 493.1 L1627.2 491.2 L1633.5 491.2 L1633.5 489.3 L1639.9 489.3 L1639.9 487.4 L1646.3 487.4 L1646.3 485.5 L1652.6 485.5 L1652.6 483.8 L1659.0 483.8 L1659.0 482.4 L1665.4 482.4 L1665.4 480.9 L1671.7 480.9 L1671.7 479.5 L1678.1 479.5 L1678.1 478.1 L1684.5 478.1 L1684.5 476.7 L1690.8 476.7 L1690.8 475.3 L1694.0 475.3" fill="none" stroke="#000" stroke-width="5.6" stroke-linejoin="miter"/>
<path d="M208.1 1257.6 L208.1 1204.1 L214.5 1204.1 L214.5 1204.1 L220.8 1204.1 L220.8 1204.1 L227.2 1204.1 L227.2 1204.1 L233.5 1204.1 L233.5 1204.1 L239.9 1204.1 L239.9 1204.1 L246.3 1204.1 L246.3 1204.1 L252.6 1204.1 L252.6 1204.1 L259.0 1204.1 L259.0 1204.1 L265.4 1204.1 L265.4 1204.1 L271.7 1204.1 L271.7 1204.1 L278.1 1204.1 L278.1 1204.1 L284.5 1204.1 L284.5 1204.1 L290.8 1204.1 L290.8 1204.1 L297.2 1204.1 L297.2 1204.1 L303.5 1204.1 L303.5 1204.1 L309.9 1204.1 L309.9 1204.1 L316.3 1204.1 L316.3 1204.1 L322.6 1204.1 L322.6 1204.1 L329.0 1204.1 L329.0 1204.1 L335.4 1204.1 L335.4 1195.7 L341.7 1195.7 L341.7 1195.7 L348.1 1195.7 L348.1 1195.7 L354.5 1195.7 L354.5 1195.7 L360.8 1195.7 L360.8 1195.7 L367.2 1195.7 L367.2 1195.7 L373.5 1195.7 L373.5 1195.7 L379.9 1195.7 L379.9 1195.7 L386.3 1195.7 L386.3 1195.7 L392.6 1195.7 L392.6 1195.7 L399.0 1195.7 L399.0 1195.7 L405.4 1195.7 L405.4 1195.7 L411.7 1195.7 L411.7 1195.7 L418.1 1195.7 L418.1 1195.7 L424.5 1195.7 L424.5 1195.7 L430.8 1195.7 L430.8 1195.7 L437.2 1195.7 L437.2 1195.7 L443.5 1195.7 L443.5 1195.7 L449.9 1195.7 L449.9 1195.7 L456.3 1195.7 L456.3 1195.7 L462.6 1195.7 L462.6 1195.7 L469.0 1195.7 L469.0 1188.2 L475.4 1188.2 L475.4 1147.3 L481.7 1147.3 L481.7 769.7 L488.1 769.7 L488.1 680.6 L494.5 680.6 L494.5 657.3 L500.8 657.3 L500.8 657.3 L507.2 657.3 L507.2 657.3 L513.5 657.3 L513.5 657.3 L519.9 657.3 L519.9 657.3 L526.3 657.3 L526.3 657.3 L532.6 657.3 L532.6 657.3 L539.0 657.3 L539.0 657.3 L545.4 657.3 L545.4 657.3 L551.7 657.3 L551.7 657.3 L558.1 657.3 L558.1 649.4 L564.5 649.4 L564.5 649.4 L570.8 649.4 L570.8 649.4 L577.2 649.4 L577.2 649.4 L583.5 649.4 L583.5 646.7 L589.9 646.7 L589.9 646.7 L596.3 646.7 L596.3 646.7 L602.6 646.7 L602.6 646.7 L609.0 646.7 L609.0 646.7 L615.4 646.7 L615.4 646.7 L621.7 646.7 L621.7 646.7 L628.1 646.7 L628.1 646.7 L634.5 646.7 L634.5 646.7 L640.8 646.7 L640.8 646.7 L647.2 646.7 L647.2 646.7 L653.5 646.7 L653.5 646.7 L659.9 646.7 L659.9 646.7 L666.3 646.7 L666.3 646.7 L672.6 646.7 L672.6 646.7 L679.0 646.7 L679.0 646.7 L685.4 646.7 L685.4 646.7 L691.7 646.7 L691.7 646.7 L698.1 646.7 L698.1 646.7 L704.5 646.7 L704.5 646.7 L710.8 646.7 L710.8 646.7 L717.2 646.7 L717.2 646.7 L723.5 646.7 L723.5 646.7 L729.9 646.7 L729.9 646.7 L736.3 646.7 L736.3 646.7 L742.6 646.7 L742.6 646.7 L749.0 646.7 L749.0 646.7 L755.4 646.7 L755.4 646.7 L761.7 646.7 L761.7 646.7 L768.1 646.7 L768.1 646.7 L774.5 646.7 L774.5 646.7 L780.8 646.7 L780.8 646.7 L787.2 646.7 L787.2 646.7 L793.5 646.7 L793.5 646.7 L799.9 646.7 L799.9 646.7 L806.3 646.7 L806.3 646.7 L812.6 646.7 L812.6 646.7 L819.0 646.7 L819.0 646.7 L825.4 646.7 L825.4 646.7 L831.7 646.7 L831.7 646.7 L838.1 646.7 L838.1 646.7 L844.5 646.7 L844.5 646.7 L850.8 646.7 L850.8 646.7 L857.2 646.7 L857.2 646.7 L863.5 646.7 L863.5 646.7 L869.9 646.7 L869.9 646.7 L876.3 646.7 L876.3 646.7 L882.6 646.7 L882.6 646.7 L889.0 646.7 L889.0 646.7 L895.4 646.7 L895.4 646.7 L901.7 646.7 L901.7 646.7 L908.1 646.7 L908.1 646.7 L914.5 646.7 L914.5 646.7 L920.8 646.7 L920.8 646.7 L927.2 646.7 L927.2 646.7 L933.5 646.7 L933.5 646.7 L939.9 646.7 L939.9 646.7 L946.3 646.7 L946.3 646.7 L952.6 646.7 L952.6 646.7 L959.0 646.7 L959.0 646.7 L965.4 646.7 L965.4 646.7 L971.7 646.7 L971.7 642.4 L978.1 642.4 L978.1 642.4 L984.5 642.4 L984.5 642.4 L990.8 642.4 L990.8 642.4 L997.2 642.4 L997.2 642.4 L1003.5 642.4 L1003.5 642.4 L1009.9 642.4 L1009.9 642.4 L1016.3 642.4 L1016.3 642.4 L1022.6 642.4 L1022.6 642.4 L1029.0 642.4 L1029.0 642.4 L1035.4 642.4 L1035.4 642.4 L1041.7 642.4 L1041.7 642.4 L1048.1 642.4 L1048.1 642.4 L1054.5 642.4 L1054.5 642.4 L1060.8 642.4 L1060.8 642.4 L1067.2 642.4 L1067.2 642.4 L1073.5 642.4 L1073.5 642.4 L1079.9 642.4 L1079.9 642.4 L1086.3 642.4 L1086.3 642.4 L1092.6 642.4 L1092.6 642.4 L1099.0 642.4 L1099.0 642.4 L1105.4 642.4 L1105.4 642.4 L1111.7 642.4 L1111.7 470.6 L1118.1 470.6 L1118.1 432.0 L1124.5 432.0 L1124.5 432.0 L1130.8 432.0 L1130.8 432.0 L1137.2 432.0 L1137.2 432.0 L1143.5 432.0 L1143.5 432.0 L1149.9 432.0 L1149.9 432.0 L1156.3 432.0 L1156.3 432.0 L1162.6 432.0 L1162.6 432.0 L1169.0 432.0 L1169.0 432.0 L1175.4 432.0 L1175.4 432.0 L1181.7 432.0 L1181.7 432.0 L1188.1 432.0 L1188.1 432.0 L1194.5 432.0 L1194.5 432.0 L1200.8 432.0 L1200.8 432.0 L1207.2 432.0 L1207.2 432.0 L1213.5 432.0 L1213.5 432.0 L1219.9 432.0 L1219.9 432.0 L1226.3 432.0 L1226.3 432.0 L1232.6 432.0 L1232.6 432.0 L1239.0 432.0 L1239.0 432.0 L1245.4 432.0 L1245.4 432.0 L1251.7 432.0 L1251.7 432.0 L1258.1 432.0 L1258.1 432.0 L1264.5 432.0 L1264.5 432.0 L1270.8 432.0 L1270.8 429.2 L1277.2 429.2 L1277.2 429.2 L1283.5 429.2 L1283.5 429.2 L1289.9 429.2 L1289.9 429.2 L1296.3 429.2 L1296.3 429.2 L1302.6 429.2 L1302.6 429.2 L1309.0 429.2 L1309.0 429.2 L1315.4 429.2 L1315.4 422.7 L1321.7 422.7 L1321.7 422.7 L1328.1 422.7 L1328.1 422.7 L1334.5 422.7 L1334.5 422.7 L1340.8 422.7 L1340.8 422.7 L1347.2 422.7 L1347.2 422.7 L1353.5 422.7 L1353.5 422.7 L1359.9 422.7 L1359.9 422.7 L1366.3 422.7 L1366.3 422.7 L1372.6 422.7 L1372.6 422.7 L1379.0 422.7 L1379.0 422.7 L1385.4 422.7 L1385.4 422.7 L1391.7 422.7 L1391.7 422.7 L1398.1 422.7 L1398.1 422.7 L1404.5 422.7 L1404.5 422.7 L1410.8 422.7 L1410.8 422.7 L1417.2 422.7 L1417.2 422.7 L1423.5 422.7 L1423.5 422.7 L1429.9 422.7 L1429.9 422.7 L1436.3 422.7 L1436.3 422.7 L1442.6 422.7 L1442.6 422.7 L1449.0 422.7 L1449.0 422.7 L1455.4 422.7 L1455.4 422.7 L1461.7 422.7 L1461.7 422.7 L1468.1 422.7 L1468.1 394.9 L1474.5 394.9 L1474.5 394.9 L1480.8 394.9 L1480.8 394.9 L1487.2 394.9 L1487.2 394.9 L1493.5 394.9 L1493.5 394.9 L1499.9 394.9 L1499.9 394.9 L1506.3 394.9 L1506.3 394.9 L1512.6 394.9 L1512.6 394.9 L1519.0 394.9 L1519.0 394.9 L1525.4 394.9 L1525.4 394.9 L1531.7 394.9 L1531.7 394.9 L1538.1 394.9 L1538.1 394.9 L1544.5 394.9 L1544.5 394.9 L1550.8 394.9 L1550.8 394.9 L1557.2 394.9 L1557.2 394.9 L1563.5 394.9 L1563.5 394.9 L1569.9 394.9 L1569.9 394.9 L1576.3 394.9 L1576.3 394.9 L1582.6 394.9 L1582.6 394.9 L1589.0 394.9 L1589.0 394.9 L1595.4 394.9 L1595.4 394.9 L1601.7 394.9 L1601.7 394.9 L1608.1 394.9 L1608.1 394.9 L1614.5 394.9 L1614.5 394.9 L1620.8 394.9 L1620.8 394.9 L1627.2 394.9 L1627.2 394.9 L1633.5 394.9 L1633.5 394.9 L1639.9 394.9 L1639.9 394.9 L1646.3 394.9 L1646.3 394.9 L1652.6 394.9 L1652.6 394.9 L1659.0 394.9 L1659.0 394.9 L1665.4 394.9 L1665.4 394.9 L1671.7 394.9 L1671.7 394.9 L1678.1 394.9 L1678.1 394.9 L1684.5 394.9 L1684.5 394.9 L1690.8 394.9 L1690.8 394.9 L1694.0 394.9" fill="none" stroke="#0000FF" stroke-width="5.0" stroke-linejoin="miter"/>
</g>
<text x="631.7" y="346.0" font-size="22.22" font-weight="bold" fill="#000">Avg ENSO/PDO</text>
<text x="631.7" y="375.2" font-size="22.22" fill="#000">ONI= -0.149</text>
<text x="631.7" y="403.9" font-size="22.22" fill="#000">PDO= 0.399</text>
<text x="1155.5" y="327.1" font-size="22.22" fill="#000">Daily total and cumulative seasonal precipitation</text>
<text x="1155.5" y="356.2" font-size="22.22" fill="#E8202A">(*=Missing)</text>
<line x1="351.27" y1="290.00" x2="351.27" y2="307.50" stroke="#262626" stroke-width="5.56"/>
<line x1="351.27" y1="1257.60" x2="351.27" y2="1240.10" stroke="#262626" stroke-width="5.56"/>
<line x1="542.18" y1="290.00" x2="542.18" y2="307.50" stroke="#262626" stroke-width="5.56"/>
<line x1="542.18" y1="1257.60" x2="542.18" y2="1240.10" stroke="#262626" stroke-width="5.56"/>
<line x1="739.45" y1="290.00" x2="739.45" y2="307.50" stroke="#262626" stroke-width="5.56"/>
<line x1="739.45" y1="1257.60" x2="739.45" y2="1240.10" stroke="#262626" stroke-width="5.56"/>
<line x1="936.73" y1="290.00" x2="936.73" y2="307.50" stroke="#262626" stroke-width="5.56"/>
<line x1="936.73" y1="1257.60" x2="936.73" y2="1240.10" stroke="#262626" stroke-width="5.56"/>
<line x1="1114.91" y1="290.00" x2="1114.91" y2="307.50" stroke="#262626" stroke-width="5.56"/>
<line x1="1114.91" y1="1257.60" x2="1114.91" y2="1240.10" stroke="#262626" stroke-width="5.56"/>
<line x1="1312.18" y1="290.00" x2="1312.18" y2="307.50" stroke="#262626" stroke-width="5.56"/>
<line x1="1312.18" y1="1257.60" x2="1312.18" y2="1240.10" stroke="#262626" stroke-width="5.56"/>
<line x1="1503.09" y1="290.00" x2="1503.09" y2="307.50" stroke="#262626" stroke-width="5.56"/>
<line x1="1503.09" y1="1257.60" x2="1503.09" y2="1240.10" stroke="#262626" stroke-width="5.56"/>
<text x="142.9" y="1268.5" font-size="27.78" text-anchor="end" fill="#262626">0</text>
<line x1="154.00" y1="1151.53" x2="171.50" y2="1151.53" stroke="#262626" stroke-width="5.56"/>
<line x1="1694.00" y1="1151.53" x2="1676.50" y2="1151.53" stroke="#262626" stroke-width="5.56"/>
<text x="142.9" y="1162.5" font-size="27.78" text-anchor="end" fill="#262626">0.5</text>
<line x1="154.00" y1="1045.47" x2="171.50" y2="1045.47" stroke="#262626" stroke-width="5.56"/>
<line x1="1694.00" y1="1045.47" x2="1676.50" y2="1045.47" stroke="#262626" stroke-width="5.56"/>
<text x="142.9" y="1056.4" font-size="27.78" text-anchor="end" fill="#262626">1</text>
<line x1="154.00" y1="939.40" x2="171.50" y2="939.40" stroke="#262626" stroke-width="5.56"/>
<line x1="1694.00" y1="939.40" x2="1676.50" y2="939.40" stroke="#262626" stroke-width="5.56"/>
<text x="142.9" y="950.3" font-size="27.78" text-anchor="end" fill="#262626">1.5</text>
<line x1="154.00" y1="833.34" x2="171.50" y2="833.34" stroke="#262626" stroke-width="5.56"/>
<line x1="1694.00" y1="833.34" x2="1676.50" y2="833.34" stroke="#262626" stroke-width="5.56"/>
<text x="142.9" y="844.3" font-size="27.78" text-anchor="end" fill="#262626">2</text>
<line x1="154.00" y1="727.27" x2="171.50" y2="727.27" stroke="#262626" stroke-width="5.56"/>
<line x1="1694.00" y1="727.27" x2="1676.50" y2="727.27" stroke="#262626" stroke-width="5.56"/>
<text x="142.9" y="738.2" font-size="27.78" text-anchor="end" fill="#262626">2.5</text>
<line x1="154.00" y1="621.21" x2="171.50" y2="621.21" stroke="#262626" stroke-width="5.56"/>
<line x1="1694.00" y1="621.21" x2="1676.50" y2="621.21" stroke="#262626" stroke-width="5.56"/>
<text x="142.9" y="632.2" font-size="27.78" text-anchor="end" fill="#262626">3</text>
<line x1="154.00" y1="515.14" x2="171.50" y2="515.14" stroke="#262626" stroke-width="5.56"/>
<line x1="1694.00" y1="515.14" x2="1676.50" y2="515.14" stroke="#262626" stroke-width="5.56"/>
<text x="142.9" y="526.1" font-size="27.78" text-anchor="end" fill="#262626">3.5</text>
<line x1="154.00" y1="409.08" x2="171.50" y2="409.08" stroke="#262626" stroke-width="5.56"/>
<line x1="1694.00" y1="409.08" x2="1676.50" y2="409.08" stroke="#262626" stroke-width="5.56"/>
<text x="142.9" y="420.0" font-size="27.78" text-anchor="end" fill="#262626">4</text>
<line x1="154.00" y1="303.01" x2="171.50" y2="303.01" stroke="#262626" stroke-width="5.56"/>
<line x1="1694.00" y1="303.01" x2="1676.50" y2="303.01" stroke="#262626" stroke-width="5.56"/>
<text x="142.9" y="314.0" font-size="27.78" text-anchor="end" fill="#262626">4.5</text>
<rect x="154.00" y="290.00" width="1540.00" height="967.60" fill="none" stroke="#262626" stroke-width="5.56"/>
<text x="88.8" y="773.7" font-size="30.20" text-anchor="middle" fill="#262626" transform="rotate(-90 88.8 773.7)">inches</text>
<rect x="220.00" y="323.20" width="395.80" height="304.80" fill="#fff"/>
<line x1="270.49" y1="323.20" x2="270.49" y2="329.20" stroke="#262626" stroke-width="5.56"/>
<line x1="270.49" y1="628.00" x2="270.49" y2="622.00" stroke="#262626" stroke-width="5.56"/>
<line x1="369.85" y1="323.20" x2="369.85" y2="329.20" stroke="#262626" stroke-width="5.56"/>
<line x1="369.85" y1="628.00" x2="369.85" y2="622.00" stroke="#262626" stroke-width="5.56"/>
<line x1="465.95" y1="323.20" x2="465.95" y2="329.20" stroke="#262626" stroke-width="5.56"/>
<line x1="465.95" y1="628.00" x2="465.95" y2="622.00" stroke="#262626" stroke-width="5.56"/>
<line x1="565.31" y1="323.20" x2="565.31" y2="329.20" stroke="#262626" stroke-width="5.56"/>
<line x1="565.31" y1="628.00" x2="565.31" y2="622.00" stroke="#262626" stroke-width="5.56"/>
<line x1="220.00" y1="526.40" x2="226.00" y2="526.40" stroke="#262626" stroke-width="5.56"/>
<line x1="615.80" y1="526.40" x2="609.80" y2="526.40" stroke="#262626" stroke-width="5.56"/>
<line x1="220.00" y1="424.80" x2="226.00" y2="424.80" stroke="#262626" stroke-width="5.56"/>
<line x1="615.80" y1="424.80" x2="609.80" y2="424.80" stroke="#262626" stroke-width="5.56"/>
<rect x="220.00" y="323.20" width="395.80" height="304.80" fill="none" stroke="#262626" stroke-width="5.56"/>
<g clip-path="url(#ci)" fill="none" stroke-linejoin="round">
<path d="M220.0 628.0 L221.6 628.0 L223.3 628.0 L224.9 628.0 L226.5 628.0 L228.1 628.0 L229.8 628.0 L231.4 628.0 L233.0 628.0 L234.7 615.2 L236.3 615.2 L237.9 615.2 L239.5 615.2 L241.2 615.2 L242.8 615.2 L244.4 615.2 L246.1 615.2 L247.7 615.2 L249.3 615.2 L250.9 615.2 L252.6 615.2 L254.2 615.2 L255.8 615.2 L257.5 615.2 L259.1 615.2 L260.7 615.2 L262.3 615.2 L264.0 615.2 L265.6 615.2 L267.2 613.2 L268.9 613.2 L270.5 613.2 L272.1 613.2 L273.8 613.2 L275.4 613.2 L277.0 613.2 L278.6 613.2 L280.3 613.2 L281.9 613.2 L283.5 613.2 L285.2 613.2 L286.8 613.2 L288.4 613.2 L290.0 613.2 L291.7 613.2 L293.3 613.2 L294.9 613.2 L296.6 613.2 L298.2 613.2 L299.8 613.2 L301.4 611.4 L303.1 601.6 L304.7 511.2 L306.3 489.8 L308.0 484.2 L309.6 484.2 L311.2 484.2 L312.8 484.2 L314.5 484.2 L316.1 484.2 L317.7 484.2 L319.4 484.2 L321.0 484.2 L322.6 484.2 L324.2 482.4 L325.9 482.4 L327.5 482.4 L329.1 482.4 L330.8 481.7 L332.4 481.7 L334.0 481.7 L335.6 481.7 L337.3 481.7 L338.9 481.7 L340.5 481.7 L342.2 481.7 L343.8 481.7 L345.4 481.7 L347.0 481.7 L348.7 481.7 L350.3 481.7 L351.9 481.7 L353.6 481.7 L355.2 481.7 L356.8 481.7 L358.4 481.7 L360.1 481.7 L361.7 481.7 L363.3 481.7 L365.0 481.7 L366.6 481.7 L368.2 481.7 L369.9 481.7 L371.5 481.7 L373.1 481.7 L374.7 481.7 L376.4 481.7 L378.0 481.7 L379.6 481.7 L381.3 481.7 L382.9 481.7 L384.5 481.7 L386.1 481.7 L387.8 481.7 L389.4 481.7 L391.0 481.7 L392.7 481.7 L394.3 481.7 L395.9 481.7 L397.5 481.7 L399.2 481.7 L400.8 481.7 L402.4 481.7 L404.1 481.7 L405.7 481.7 L407.3 481.7 L408.9 481.7 L410.6 481.7 L412.2 481.7 L413.8 481.7 L415.5 481.7 L417.1 481.7 L418.7 481.7 L420.3 481.7 L422.0 481.7 L423.6 481.7 L425.2 481.7 L426.9 481.7 L428.5 481.7 L430.1 480.7 L431.7 480.7 L433.4 480.7 L435.0 480.7 L436.6 480.7 L438.3 480.7 L439.9 480.7 L441.5 480.7 L443.1 480.7 L444.8 480.7 L446.4 480.7 L448.0 480.7 L449.7 480.7 L451.3 480.7 L452.9 480.7 L454.5 480.7 L456.2 480.7 L457.8 480.7 L459.4 480.7 L461.1 480.7 L462.7 480.7 L464.3 480.7 L465.9 439.5 L467.6 430.3 L469.2 430.3 L470.8 430.3 L472.5 430.3 L474.1 430.3 L475.7 430.3 L477.4 430.3 L479.0 430.3 L480.6 430.3 L482.2 430.3 L483.9 430.3 L485.5 430.3 L487.1 430.3 L488.8 430.3 L490.4 430.3 L492.0 430.3 L493.6 430.3 L495.3 430.3 L496.9 430.3 L498.5 430.3 L500.2 430.3 L501.8 430.3 L503.4 430.3 L505.0 430.3 L506.7 429.6 L508.3 429.6 L509.9 429.6 L511.6 429.6 L513.2 429.6 L514.8 429.6 L516.4 429.6 L518.1 428.1 L519.7 428.1 L521.3 428.1 L523.0 428.1 L524.6 428.1 L526.2 428.1 L527.8 428.1 L529.5 428.1 L531.1 428.1 L532.7 428.1 L534.4 428.1 L536.0 428.1 L537.6 428.1 L539.2 428.1 L540.9 428.1 L542.5 428.1 L544.1 428.1 L545.8 428.1 L547.4 428.1 L549.0 428.1 L550.6 428.1 L552.3 428.1 L553.9 428.1 L555.5 428.1 L557.2 421.4 L558.8 421.4 L560.4 421.4 L562.0 421.4 L563.7 421.4 L565.3 421.4 L566.9 421.4 L568.6 421.4 L570.2 421.4 L571.8 421.4 L573.5 421.4 L575.1 421.4 L576.7 421.4 L578.3 421.4 L580.0 421.4 L581.6 421.4 L583.2 421.4 L584.9 421.4 L586.5 421.4 L588.1 421.4 L589.7 421.4 L591.4 421.4 L593.0 421.4 L594.6 421.4 L596.3 421.4 L597.9 421.4 L599.5 421.4 L601.1 421.4 L602.8 421.4 L604.4 421.4 L606.0 421.4 L607.7 421.4 L609.3 421.4 L610.9 421.4 L612.5 421.4 L614.2 421.4" fill="none" stroke="#0072BD" stroke-width="5.56"/>
<path d="M219.1 628.0 L264.1 628.0 L266.4 590.3 L269.8 581.3 L276.5 581.3 L282.2 574.6 L288.9 567.8 L296.8 565.6 L305.8 563.3 L319.3 562.2 L332.8 562.2 L336.2 549.8 L340.7 536.3 L344.0 525.1 L386.8 525.1 L391.3 521.7 L400.3 521.7 L403.7 509.3 L408.2 498.1 L410.4 481.2 L436.3 481.2 L447.6 477.8 L454.3 471.1 L458.8 462.1 L462.2 454.2 L481.3 453.0 L484.7 444.0 L488.1 436.2 L497.1 436.2 L501.6 429.4 L589.4 429.4 L596.1 424.9 L615.3 423.8" fill="none" stroke="#D95319" stroke-width="5.56"/>
<path d="M229.3 628.0 L281.0 628.0 L284.4 606.1 L293.4 606.1 L296.8 591.5 L317.0 591.5 L318.2 549.8 L329.4 549.8 L332.8 502.6 L355.3 502.6 L355.3 487.9 L365.4 487.9 L365.4 478.9 L393.6 478.9 L398.1 475.6 L407.1 474.4 L412.7 460.9 L419.4 460.9 L425.1 442.9 L429.6 441.8 L461.1 438.4 L467.8 426.0 L473.5 422.7 L485.8 419.3 L490.3 417.0 L501.6 414.8 L505.0 396.8 L533.1 395.7 L535.4 392.3 L548.9 391.2 L551.1 386.7 L593.9 386.7 L596.1 383.7 L615.3 383.7" fill="none" stroke="#EDB120" stroke-width="5.56"/>
<path d="M219.1 628.0 L224.8 628.0 L229.3 612.9 L233.8 601.6 L240.5 599.3 L246.1 563.3 L266.4 563.3 L268.6 558.8 L285.5 558.8 L287.8 535.2 L308.0 535.2 L310.3 522.8 L314.8 520.6 L315.9 512.7 L333.9 512.7 L337.3 490.2 L417.2 490.2 L421.7 475.6 L425.1 462.1 L434.1 453.0 L445.3 450.8 L479.1 450.8 L483.6 435.0 L488.1 419.3 L492.6 411.4 L515.1 410.3 L517.4 402.4 L613.0 402.4 L615.3 399.0" fill="none" stroke="#7E2F8E" stroke-width="5.56"/>
<path d="M220.0 628.0 L221.6 624.9 L223.3 622.8 L224.9 620.9 L226.5 619.0 L228.1 617.4 L229.8 615.8 L231.4 615.2 L233.0 614.9 L234.7 614.0 L236.3 613.1 L237.9 612.2 L239.5 611.3 L241.2 610.5 L242.8 609.8 L244.4 608.7 L246.1 606.7 L247.7 605.0 L249.3 603.4 L250.9 602.1 L252.6 600.9 L254.2 600.3 L255.8 599.9 L257.5 599.5 L259.1 599.0 L260.7 598.4 L262.3 597.7 L264.0 596.7 L265.6 594.1 L267.2 592.7 L268.9 591.4 L270.5 590.1 L272.1 588.9 L273.8 587.8 L275.4 587.3 L277.0 586.9 L278.6 586.6 L280.3 586.2 L281.9 585.4 L283.5 584.4 L285.2 583.5 L286.8 582.6 L288.4 581.6 L290.0 580.7 L291.7 579.7 L293.3 578.8 L294.9 578.4 L296.6 578.1 L298.2 577.7 L299.8 577.3 L301.4 576.9 L303.1 576.5 L304.7 574.6 L306.3 573.6 L308.0 573.0 L309.6 572.5 L311.2 571.9 L312.8 571.4 L314.5 570.8 L316.1 570.1 L317.7 569.0 L319.4 567.9 L321.0 566.8 L322.6 565.7 L324.2 564.7 L325.9 563.8 L327.5 562.9 L329.1 562.0 L330.8 561.1 L332.4 560.1 L334.0 558.9 L335.6 557.7 L337.3 556.5 L338.9 555.3 L340.5 554.4 L342.2 553.5 L343.8 552.6 L345.4 551.7 L347.0 550.8 L348.7 549.9 L350.3 549.0 L351.9 548.0 L353.6 547.1 L355.2 546.4 L356.8 545.6 L358.4 544.9 L360.1 544.1 L361.7 543.3 L363.3 542.6 L365.0 541.8 L366.6 540.9 L368.2 540.0 L369.9 539.2 L371.5 538.3 L373.1 537.4 L374.7 536.6 L376.4 536.0 L378.0 535.3 L379.6 534.7 L381.3 534.1 L382.9 533.4 L384.5 532.8 L386.1 532.1 L387.8 531.4 L389.4 530.6 L391.0 529.8 L392.7 529.0 L394.3 528.1 L395.9 527.3 L397.5 526.0 L399.2 524.7 L400.8 523.3 L402.4 522.5 L404.1 521.9 L405.7 521.4 L407.3 520.9 L408.9 520.4 L410.6 519.8 L412.2 519.1 L413.8 518.4 L415.5 517.7 L417.1 516.9 L418.7 516.4 L420.3 515.9 L422.0 515.4 L423.6 514.9 L425.2 514.4 L426.9 513.9 L428.5 513.4 L430.1 512.8 L431.7 511.9 L433.4 510.9 L435.0 509.9 L436.6 508.9 L438.3 507.9 L439.9 506.9 L441.5 505.9 L443.1 505.0 L444.8 504.0 L446.4 503.1 L448.0 502.2 L449.7 501.3 L451.3 500.5 L452.9 499.7 L454.5 499.0 L456.2 498.2 L457.8 497.3 L459.4 496.2 L461.1 495.2 L462.7 494.1 L464.3 493.1 L465.9 492.3 L467.6 491.5 L469.2 490.8 L470.8 490.0 L472.5 489.3 L474.1 488.5 L475.7 487.8 L477.4 487.1 L479.0 486.4 L480.6 485.3 L482.2 484.6 L483.9 484.1 L485.5 483.6 L487.1 483.0 L488.8 482.5 L490.4 482.0 L492.0 481.3 L493.6 480.6 L495.3 479.8 L496.9 479.1 L498.5 478.5 L500.2 477.9 L501.8 477.3 L503.4 476.7 L505.0 475.8 L506.7 474.6 L508.3 473.4 L509.9 472.2 L511.6 470.9 L513.2 470.0 L514.8 469.1 L516.4 468.2 L518.1 467.7 L519.7 467.2 L521.3 466.8 L523.0 466.3 L524.6 465.9 L526.2 465.4 L527.8 464.9 L529.5 464.5 L531.1 464.0 L532.7 463.8 L534.4 463.6 L536.0 463.3 L537.6 463.1 L539.2 462.9 L540.9 462.4 L542.5 461.9 L544.1 461.5 L545.8 461.0 L547.4 460.5 L549.0 460.0 L550.6 459.5 L552.3 459.0 L553.9 458.5 L555.5 458.0 L557.2 457.5 L558.8 457.0 L560.4 456.5 L562.0 456.0 L563.7 455.5 L565.3 455.0 L566.9 454.5 L568.6 454.0 L570.2 453.3 L571.8 452.7 L573.5 452.0 L575.1 451.4 L576.7 451.0 L578.3 450.7 L580.0 450.3 L581.6 449.9 L583.2 449.5 L584.9 449.0 L586.5 448.6 L588.1 448.1 L589.7 447.7 L591.4 447.0 L593.0 446.3 L594.6 445.6 L596.3 444.9 L597.9 444.5 L599.5 444.0 L601.1 443.5 L602.8 443.1 L604.4 442.7 L606.0 442.3 L607.7 442.0 L609.3 441.7 L610.9 441.3 L612.5 441.0 L614.2 440.7" fill="none" stroke="#000" stroke-width="1.4" stroke-dasharray="4.5 3.6"/>
</g>
<text x="208.6" y="638.7" font-size="27.78" text-anchor="end" fill="#262626">0</text>
<text x="208.6" y="537.1" font-size="27.78" text-anchor="end" fill="#262626">2</text>
<text x="208.6" y="435.5" font-size="27.78" text-anchor="end" fill="#262626">4</text>
<text x="208.6" y="333.9" font-size="27.78" text-anchor="end" fill="#262626">6</text>
<text x="270.5" y="667.8" font-size="27.78" text-anchor="middle" fill="#262626">Nov1-1</text>
<text x="369.9" y="667.8" font-size="27.78" text-anchor="middle" fill="#262626">Jan-1</text>
<text x="465.9" y="667.8" font-size="27.78" text-anchor="middle" fill="#262626">Mar-1</text>
<text x="565.3" y="667.8" font-size="27.78" text-anchor="middle" fill="#262626">May-1</text>
<text x="598.3" y="357.6" font-size="27.78" text-anchor="end" font-weight="bold" fill="#000">Similar Years</text>
<rect x="248.70" y="350.85" width="143.45" height="102.50" fill="#fff" stroke="#262626" stroke-width="5.56"/>
<line x1="256.85" y1="366.50" x2="340.40" y2="366.50" stroke="#0072BD" stroke-width="5.56"/>
<text x="346.6" y="373.0" font-size="16.39" font-weight="bold" fill="#000">2014</text>
<line x1="256.85" y1="390.40" x2="340.40" y2="390.40" stroke="#D95319" stroke-width="5.56"/>
<text x="346.6" y="396.9" font-size="16.39" font-weight="bold" fill="#000">1962</text>
<line x1="256.85" y1="414.10" x2="340.40" y2="414.10" stroke="#EDB120" stroke-width="5.56"/>
<text x="346.6" y="420.6" font-size="16.39" font-weight="bold" fill="#000">1983</text>
<line x1="256.85" y1="437.95" x2="340.40" y2="437.95" stroke="#7E2F8E" stroke-width="5.56"/>
<text x="346.6" y="444.4" font-size="16.39" font-weight="bold" fill="#000">1986</text>
</g>
<g id="temps">
<g clip-path="url(#ct)">
<line x1="154.00" y1="1497.00" x2="1694.00" y2="1497.00" stroke="#262626" stroke-width="1.2"/>
<g fill="#FBA40E" stroke="#3a1200" stroke-width="1.0">
<rect x="151.1" y="1317.1" width="5.8" height="84.9"/>
<rect x="157.5" y="1316.1" width="5.8" height="87.9"/>
<rect x="163.8" y="1320.5" width="5.8" height="78.0"/>
<rect x="170.2" y="1356.6" width="5.8" height="57.0"/>
<rect x="176.6" y="1354.6" width="5.8" height="83.1"/>
<rect x="182.9" y="1344.9" width="5.8" height="85.2"/>
<rect x="189.3" y="1318.6" width="5.8" height="105.4"/>
<rect x="195.6" y="1323.0" width="5.8" height="82.4"/>
<rect x="202.0" y="1326.0" width="5.8" height="79.4"/>
<rect x="208.4" y="1367.6" width="5.8" height="45.3"/>
<rect x="214.7" y="1360.5" width="5.8" height="68.0"/>
<rect x="221.1" y="1336.4" width="5.8" height="92.0"/>
<rect x="227.5" y="1331.2" width="5.8" height="78.3"/>
<rect x="233.8" y="1349.8" width="5.8" height="65.2"/>
<rect x="240.2" y="1344.9" width="5.8" height="85.4"/>
<rect x="246.6" y="1360.7" width="5.8" height="63.2"/>
<rect x="252.9" y="1347.4" width="5.8" height="83.0"/>
<rect x="259.3" y="1349.8" width="5.8" height="75.5"/>
<rect x="265.6" y="1344.9" width="5.8" height="92.3"/>
<rect x="272.0" y="1336.4" width="5.8" height="96.4"/>
<rect x="278.4" y="1340.8" width="5.8" height="84.5"/>
<rect x="284.7" y="1340.8" width="5.8" height="93.7"/>
<rect x="291.1" y="1329.8" width="5.8" height="100.3"/>
<rect x="297.5" y="1340.8" width="5.8" height="68.0"/>
<rect x="303.8" y="1342.9" width="5.8" height="68.0"/>
<rect x="310.2" y="1340.8" width="5.8" height="83.1"/>
<rect x="316.6" y="1327.4" width="5.8" height="86.3"/>
<rect x="322.9" y="1344.9" width="5.8" height="68.7"/>
<rect x="329.3" y="1354.6" width="5.8" height="64.6"/>
<rect x="335.6" y="1373.8" width="5.8" height="50.1"/>
<rect x="342.0" y="1364.9" width="5.8" height="76.2"/>
<rect x="348.4" y="1351.8" width="5.8" height="91.3"/>
<rect x="354.7" y="1336.4" width="5.8" height="106.7"/>
<rect x="361.1" y="1342.9" width="5.8" height="72.1"/>
<rect x="367.5" y="1349.8" width="5.8" height="83.1"/>
<rect x="373.8" y="1380.4" width="5.8" height="69.6"/>
<rect x="380.2" y="1375.9" width="5.8" height="87.5"/>
<rect x="386.6" y="1360.7" width="5.8" height="96.2"/>
<rect x="392.9" y="1340.8" width="5.8" height="92.0"/>
<rect x="399.3" y="1340.8" width="5.8" height="87.9"/>
<rect x="405.6" y="1349.8" width="5.8" height="91.3"/>
<rect x="412.0" y="1347.4" width="5.8" height="89.8"/>
<rect x="418.4" y="1349.8" width="5.8" height="59.1"/>
<rect x="424.7" y="1347.4" width="5.8" height="70.3"/>
<rect x="431.1" y="1351.8" width="5.8" height="57.0"/>
<rect x="437.5" y="1349.8" width="5.8" height="58.4"/>
<rect x="443.8" y="1360.7" width="5.8" height="58.4"/>
<rect x="450.2" y="1356.6" width="5.8" height="73.5"/>
<rect x="456.6" y="1356.6" width="5.8" height="73.5"/>
<rect x="462.9" y="1347.4" width="5.8" height="76.5"/>
<rect x="469.3" y="1369.7" width="5.8" height="41.2"/>
<rect x="475.6" y="1369.7" width="5.8" height="38.5"/>
<rect x="482.0" y="1395.8" width="5.8" height="15.1"/>
<rect x="488.4" y="1399.9" width="5.8" height="17.9"/>
<rect x="507.5" y="1389.6" width="5.8" height="47.4"/>
<rect x="513.8" y="1393.7" width="5.8" height="43.3"/>
<rect x="520.2" y="1391.6" width="5.8" height="47.4"/>
<rect x="526.6" y="1415.7" width="5.8" height="18.5"/>
<rect x="532.9" y="1415.7" width="5.8" height="16.5"/>
<rect x="539.3" y="1415.7" width="5.8" height="6.2"/>
<rect x="545.6" y="1395.8" width="5.8" height="30.2"/>
<rect x="552.0" y="1358.7" width="5.8" height="65.2"/>
<rect x="558.4" y="1386.2" width="5.8" height="52.9"/>
<rect x="564.7" y="1417.7" width="5.8" height="39.1"/>
<rect x="571.1" y="1410.9" width="5.8" height="52.2"/>
<rect x="577.5" y="1393.7" width="5.8" height="65.2"/>
<rect x="583.8" y="1415.7" width="5.8" height="32.3"/>
<rect x="590.2" y="1428.7" width="5.8" height="39.1"/>
<rect x="596.6" y="1424.6" width="5.8" height="52.2"/>
<rect x="602.9" y="1417.7" width="5.8" height="61.1"/>
<rect x="609.3" y="1409.5" width="5.8" height="56.3"/>
<rect x="615.6" y="1387.3" width="5.8" height="69.6"/>
<rect x="622.0" y="1395.8" width="5.8" height="56.3"/>
<rect x="628.4" y="1389.6" width="5.8" height="69.4"/>
<rect x="634.7" y="1382.7" width="5.8" height="74.2"/>
<rect x="641.1" y="1384.8" width="5.8" height="72.1"/>
<rect x="647.5" y="1391.6" width="5.8" height="60.4"/>
<rect x="653.8" y="1367.6" width="5.8" height="66.6"/>
<rect x="660.2" y="1402.6" width="5.8" height="25.4"/>
<rect x="666.6" y="1391.6" width="5.8" height="54.3"/>
<rect x="672.9" y="1394.4" width="5.8" height="53.6"/>
<rect x="679.3" y="1391.6" width="5.8" height="69.4"/>
<rect x="685.6" y="1384.8" width="5.8" height="70.1"/>
<rect x="692.0" y="1396.5" width="5.8" height="66.6"/>
<rect x="698.4" y="1393.7" width="5.8" height="71.8"/>
<rect x="704.7" y="1387.3" width="5.8" height="75.8"/>
<rect x="711.1" y="1384.8" width="5.8" height="70.1"/>
<rect x="717.5" y="1389.6" width="5.8" height="61.1"/>
<rect x="723.8" y="1391.6" width="5.8" height="73.9"/>
<rect x="730.2" y="1373.8" width="5.8" height="81.0"/>
<rect x="736.6" y="1378.6" width="5.8" height="78.3"/>
<rect x="742.9" y="1378.6" width="5.8" height="84.8"/>
<rect x="749.3" y="1371.7" width="5.8" height="89.3"/>
<rect x="755.6" y="1360.5" width="5.8" height="87.5"/>
<rect x="762.0" y="1402.6" width="5.8" height="67.3"/>
<rect x="768.4" y="1402.6" width="5.8" height="74.2"/>
<rect x="774.7" y="1391.6" width="5.8" height="74.2"/>
<rect x="781.1" y="1369.7" width="5.8" height="98.2"/>
<rect x="787.5" y="1369.7" width="5.8" height="84.5"/>
<rect x="793.8" y="1371.7" width="5.8" height="87.2"/>
<rect x="800.2" y="1362.8" width="5.8" height="89.3"/>
<rect x="806.6" y="1367.6" width="5.8" height="84.5"/>
<rect x="812.9" y="1384.8" width="5.8" height="81.0"/>
<rect x="819.3" y="1375.9" width="5.8" height="87.5"/>
<rect x="825.6" y="1371.7" width="5.8" height="91.6"/>
<rect x="832.0" y="1371.7" width="5.8" height="91.6"/>
<rect x="838.4" y="1375.9" width="5.8" height="87.5"/>
<rect x="844.7" y="1373.8" width="5.8" height="87.2"/>
<rect x="851.1" y="1373.8" width="5.8" height="89.6"/>
<rect x="857.5" y="1371.7" width="5.8" height="94.1"/>
<rect x="863.8" y="1380.7" width="5.8" height="87.2"/>
<rect x="870.2" y="1375.9" width="5.8" height="79.0"/>
<rect x="876.6" y="1380.7" width="5.8" height="80.4"/>
<rect x="882.9" y="1391.6" width="5.8" height="65.2"/>
<rect x="889.3" y="1373.8" width="5.8" height="69.4"/>
<rect x="895.6" y="1364.9" width="5.8" height="90.0"/>
<rect x="902.0" y="1362.8" width="5.8" height="78.3"/>
<rect x="908.4" y="1371.7" width="5.8" height="81.0"/>
<rect x="914.7" y="1362.8" width="5.8" height="96.2"/>
<rect x="921.1" y="1342.9" width="5.8" height="74.9"/>
<rect x="927.5" y="1371.7" width="5.8" height="37.1"/>
<rect x="933.8" y="1391.6" width="5.8" height="56.3"/>
<rect x="940.2" y="1386.2" width="5.8" height="77.2"/>
<rect x="946.6" y="1395.8" width="5.8" height="54.3"/>
<rect x="952.9" y="1389.6" width="5.8" height="58.4"/>
<rect x="959.3" y="1395.8" width="5.8" height="43.3"/>
<rect x="965.6" y="1389.6" width="5.8" height="65.0"/>
<rect x="972.0" y="1380.0" width="5.8" height="68.0"/>
<rect x="978.4" y="1356.6" width="5.8" height="82.4"/>
<rect x="984.7" y="1344.9" width="5.8" height="85.2"/>
<rect x="991.1" y="1356.6" width="5.8" height="73.5"/>
<rect x="997.5" y="1367.6" width="5.8" height="80.4"/>
<rect x="1003.8" y="1360.5" width="5.8" height="89.6"/>
<rect x="1010.2" y="1332.6" width="5.8" height="99.6"/>
<rect x="1016.6" y="1332.6" width="5.8" height="97.5"/>
<rect x="1022.9" y="1323.4" width="5.8" height="104.7"/>
<rect x="1029.3" y="1334.2" width="5.8" height="69.8"/>
<rect x="1035.6" y="1336.4" width="5.8" height="106.7"/>
<rect x="1042.0" y="1344.9" width="5.8" height="87.2"/>
<rect x="1048.4" y="1336.4" width="5.8" height="85.4"/>
<rect x="1054.7" y="1382.7" width="5.8" height="63.2"/>
<rect x="1061.1" y="1360.5" width="5.8" height="94.4"/>
<rect x="1067.5" y="1351.8" width="5.8" height="89.3"/>
<rect x="1073.8" y="1344.9" width="5.8" height="94.1"/>
<rect x="1080.2" y="1343.3" width="5.8" height="96.4"/>
<rect x="1086.6" y="1340.8" width="5.8" height="87.2"/>
<rect x="1092.9" y="1342.9" width="5.8" height="85.2"/>
<rect x="1099.3" y="1347.4" width="5.8" height="63.5"/>
<rect x="1105.6" y="1351.8" width="5.8" height="63.2"/>
<rect x="1112.0" y="1378.6" width="5.8" height="43.3"/>
<rect x="1118.4" y="1373.8" width="5.8" height="50.1"/>
<rect x="1124.7" y="1367.6" width="5.8" height="47.4"/>
<rect x="1131.1" y="1360.5" width="5.8" height="50.4"/>
<rect x="1137.5" y="1364.9" width="5.8" height="65.2"/>
<rect x="1143.8" y="1347.4" width="5.8" height="71.7"/>
<rect x="1150.2" y="1356.6" width="5.8" height="57.0"/>
<rect x="1156.6" y="1361.4" width="5.8" height="57.7"/>
<rect x="1162.9" y="1358.7" width="5.8" height="72.8"/>
<rect x="1169.3" y="1334.2" width="5.8" height="98.6"/>
<rect x="1175.6" y="1362.8" width="5.8" height="59.1"/>
<rect x="1182.0" y="1360.5" width="5.8" height="78.6"/>
<rect x="1188.4" y="1349.8" width="5.8" height="80.4"/>
<rect x="1194.7" y="1356.6" width="5.8" height="57.0"/>
<rect x="1201.1" y="1356.6" width="5.8" height="65.2"/>
<rect x="1207.5" y="1351.8" width="5.8" height="87.2"/>
<rect x="1213.8" y="1336.4" width="5.8" height="93.7"/>
<rect x="1220.2" y="1375.9" width="5.8" height="59.1"/>
<rect x="1226.6" y="1362.8" width="5.8" height="90.0"/>
<rect x="1232.9" y="1334.2" width="5.8" height="106.9"/>
<rect x="1239.3" y="1340.8" width="5.8" height="81.0"/>
<rect x="1245.6" y="1343.3" width="5.8" height="79.9"/>
<rect x="1252.0" y="1343.3" width="5.8" height="75.8"/>
<rect x="1258.4" y="1343.3" width="5.8" height="78.6"/>
<rect x="1264.7" y="1347.4" width="5.8" height="86.8"/>
<rect x="1271.1" y="1349.8" width="5.8" height="52.9"/>
<rect x="1277.5" y="1358.7" width="5.8" height="56.3"/>
<rect x="1283.8" y="1355.9" width="5.8" height="70.1"/>
<rect x="1290.2" y="1329.8" width="5.8" height="103.0"/>
<rect x="1296.6" y="1340.8" width="5.8" height="70.1"/>
<rect x="1302.9" y="1343.3" width="5.8" height="89.6"/>
<rect x="1309.3" y="1345.1" width="5.8" height="65.9"/>
<rect x="1315.6" y="1368.0" width="5.8" height="51.3"/>
<rect x="1322.0" y="1369.8" width="5.8" height="69.6"/>
<rect x="1328.4" y="1347.8" width="5.8" height="91.6"/>
<rect x="1334.7" y="1360.7" width="5.8" height="48.5"/>
<rect x="1341.1" y="1354.2" width="5.8" height="71.4"/>
<rect x="1347.5" y="1340.5" width="5.8" height="87.9"/>
<rect x="1353.8" y="1324.9" width="5.8" height="105.3"/>
<rect x="1360.2" y="1312.1" width="5.8" height="102.6"/>
<rect x="1366.6" y="1314.3" width="5.8" height="85.7"/>
<rect x="1372.9" y="1318.5" width="5.8" height="87.9"/>
<rect x="1379.3" y="1327.7" width="5.8" height="70.5"/>
<rect x="1385.6" y="1327.7" width="5.8" height="66.8"/>
<rect x="1392.0" y="1358.8" width="5.8" height="71.4"/>
<rect x="1398.4" y="1336.8" width="5.8" height="106.2"/>
<rect x="1404.7" y="1325.5" width="5.8" height="98.4"/>
<rect x="1411.1" y="1323.1" width="5.8" height="94.3"/>
<rect x="1417.5" y="1339.6" width="5.8" height="55.9"/>
<rect x="1423.8" y="1341.4" width="5.8" height="76.0"/>
<rect x="1430.2" y="1325.5" width="5.8" height="83.7"/>
<rect x="1436.6" y="1314.9" width="5.8" height="80.6"/>
<rect x="1442.9" y="1314.9" width="5.8" height="76.0"/>
<rect x="1449.3" y="1334.1" width="5.8" height="67.8"/>
<rect x="1455.6" y="1327.7" width="5.8" height="100.7"/>
<rect x="1462.0" y="1323.1" width="5.8" height="86.1"/>
<rect x="1468.4" y="1369.8" width="5.8" height="41.2"/>
<rect x="1474.7" y="1354.2" width="5.8" height="56.8"/>
<rect x="1481.1" y="1341.1" width="5.8" height="74.5"/>
<rect x="1487.5" y="1356.6" width="5.8" height="75.5"/>
<rect x="1493.8" y="1347.8" width="5.8" height="82.4"/>
<rect x="1500.2" y="1334.1" width="5.8" height="86.1"/>
<rect x="1506.6" y="1323.1" width="5.8" height="103.5"/>
<rect x="1512.9" y="1303.5" width="5.8" height="105.7"/>
<rect x="1519.3" y="1307.9" width="5.8" height="78.4"/>
<rect x="1525.6" y="1312.1" width="5.8" height="83.3"/>
<rect x="1532.0" y="1326.8" width="5.8" height="70.5"/>
<rect x="1538.4" y="1354.2" width="5.8" height="65.9"/>
<rect x="1544.7" y="1343.3" width="5.8" height="58.6"/>
<rect x="1551.1" y="1324.9" width="5.8" height="81.5"/>
<rect x="1557.5" y="1320.9" width="5.8" height="81.0"/>
<rect x="1563.8" y="1354.2" width="5.8" height="33.0"/>
<rect x="1570.2" y="1352.1" width="5.8" height="70.0"/>
<rect x="1576.6" y="1347.8" width="5.8" height="67.8"/>
<rect x="1582.9" y="1334.1" width="5.8" height="98.0"/>
<rect x="1589.3" y="1319.5" width="5.8" height="102.6"/>
<rect x="1595.6" y="1299.3" width="5.8" height="102.6"/>
<rect x="1602.0" y="1296.9" width="5.8" height="89.4"/>
<rect x="1608.4" y="1307.9" width="5.8" height="76.6"/>
<rect x="1614.7" y="1307.9" width="5.8" height="81.1"/>
<rect x="1621.1" y="1312.5" width="5.8" height="78.4"/>
<rect x="1627.5" y="1315.8" width="5.8" height="93.4"/>
<rect x="1633.8" y="1315.8" width="5.8" height="97.6"/>
<rect x="1640.2" y="1327.7" width="5.8" height="56.8"/>
<rect x="1646.6" y="1334.1" width="5.8" height="65.9"/>
<rect x="1652.9" y="1332.3" width="5.8" height="58.6"/>
<rect x="1659.3" y="1307.9" width="5.8" height="79.3"/>
<rect x="1665.6" y="1292.3" width="5.8" height="90.3"/>
<rect x="1672.0" y="1294.7" width="5.8" height="80.6"/>
<rect x="1678.4" y="1318.5" width="5.8" height="51.3"/>
<rect x="1684.7" y="1301.1" width="5.8" height="83.3"/>
</g>
<line x1="154.00" y1="1426.60" x2="1686.00" y2="1426.60" stroke="#1874BE" stroke-width="2.3" stroke-dasharray="11 11.1" stroke-dashoffset="1.4"/>
<path d="M157.6 1393.0 L166.5 1392.3 L184.3 1398.5 L200.8 1403.3 L211.8 1402.0 L229.7 1407.4 L243.4 1409.5 L254.4 1408.1 L264.0 1410.9 L280.5 1410.9 L292.9 1415.7 L299.7 1414.3 L312.1 1417.1 L319.0 1415.3 L328.6 1419.1 L356.0 1425.3 L369.8 1427.4 L383.5 1428.0 L395.9 1423.9 L408.2 1429.4 L417.9 1427.4 L428.8 1427.4 L438.5 1432.2 L440.0 1432.9 L453.7 1436.3 L471.6 1441.1 L478.5 1437.7 L497.7 1442.5 L510.1 1441.1 L518.3 1445.9 L525.2 1446.6 L536.2 1444.5 L548.5 1442.5 L563.6 1446.6 L578.7 1447.3 L595.2 1450.7 L606.2 1450.7 L618.6 1452.1 L632.3 1454.1 L650.2 1451.4 L662.5 1452.1 L674.9 1449.3 L685.9 1454.1 L701.0 1455.5 L706.5 1454.1 L713.4 1455.5 L721.6 1453.5 L728.5 1453.9 L730.0 1454.1 L741.0 1458.3 L753.4 1460.3 L764.3 1454.8 L784.9 1454.1 L798.7 1450.0 L809.7 1450.7 L823.4 1453.5 L839.9 1454.1 L850.9 1452.1 L860.5 1450.0 L871.5 1451.4 L879.7 1452.8 L885.2 1448.7 L892.1 1448.0 L907.2 1448.0 L919.6 1449.3 L929.9 1445.2 L936.0 1448.7 L948.4 1449.3 L960.8 1448.0 L971.8 1448.0 L982.7 1441.8 L993.7 1441.1 L1000.6 1443.2 L1015.7 1440.4 L1020.0 1439.7 L1028.2 1439.0 L1039.2 1436.3 L1051.6 1435.6 L1065.3 1440.4 L1074.9 1439.7 L1083.2 1441.1 L1091.4 1438.4 L1107.9 1436.3 L1120.3 1432.9 L1128.5 1436.3 L1139.5 1437.0 L1157.4 1434.2 L1171.1 1427.4 L1184.8 1430.1 L1202.7 1430.8 L1213.7 1427.4 L1223.3 1429.4 L1235.7 1428.7 L1250.8 1423.9 L1261.8 1422.6 L1274.1 1419.1 L1285.1 1421.9 L1303.0 1421.9 L1308.5 1421.2 L1310.0 1423.5 L1330.1 1423.5 L1348.5 1417.4 L1357.6 1418.4 L1377.8 1416.5 L1401.6 1415.6 L1412.6 1412.9 L1419.9 1410.1 L1427.2 1415.6 L1441.9 1411.9 L1454.7 1411.0 L1465.7 1408.3 L1476.7 1411.9 L1484.0 1406.4 L1491.3 1410.1 L1509.6 1406.4 L1526.1 1401.9 L1548.1 1401.0 L1570.1 1400.0 L1584.7 1396.4 L1603.0 1394.5 L1621.4 1390.9 L1630.5 1394.5 L1648.8 1392.7 L1661.6 1390.0 L1674.5 1388.1 L1691.0 1389.0" fill="none" stroke="#0000FF" stroke-width="5.56" stroke-linejoin="round"/>
<path d="M157.6 1320.2 L170.6 1325.0 L185.7 1329.1 L198.1 1329.8 L210.4 1326.4 L224.2 1330.5 L235.2 1331.2 L246.2 1334.6 L255.8 1338.8 L262.0 1335.3 L273.6 1339.5 L284.6 1344.3 L298.4 1342.2 L308.0 1343.6 L321.7 1347.0 L328.6 1346.6 L339.6 1353.2 L349.2 1352.9 L362.9 1358.0 L372.5 1353.9 L390.4 1355.2 L411.0 1360.1 L427.5 1362.8 L438.5 1367.6 L440.0 1369.0 L451.0 1370.4 L464.7 1374.5 L478.5 1372.4 L501.8 1373.8 L511.4 1377.9 L522.4 1383.4 L530.7 1383.4 L541.6 1380.7 L552.6 1381.3 L563.6 1384.8 L577.4 1385.5 L588.4 1389.6 L602.1 1391.0 L615.8 1393.0 L625.4 1395.1 L639.2 1393.0 L657.0 1392.3 L673.5 1396.5 L687.3 1399.2 L705.1 1399.9 L714.7 1397.1 L727.1 1397.1 L730.0 1398.5 L739.6 1403.3 L752.0 1405.4 L760.2 1399.9 L772.6 1399.2 L784.9 1393.0 L797.3 1389.6 L806.9 1391.6 L819.3 1395.8 L834.4 1395.1 L848.1 1388.9 L857.7 1391.0 L871.5 1395.1 L882.5 1388.2 L894.8 1385.5 L908.6 1386.8 L923.7 1384.1 L933.3 1386.2 L944.3 1388.2 L955.3 1384.8 L962.1 1380.0 L967.6 1382.7 L977.3 1380.0 L988.2 1377.2 L1000.6 1377.9 L1013.0 1375.9 L1024.0 1374.5 L1020.0 1376.5 L1033.7 1371.7 L1044.7 1371.0 L1057.1 1375.9 L1070.8 1371.7 L1081.8 1372.4 L1090.1 1369.7 L1102.4 1371.0 L1113.4 1371.7 L1127.1 1369.0 L1140.9 1367.6 L1154.6 1364.2 L1165.6 1359.4 L1172.5 1361.4 L1180.7 1364.9 L1191.7 1360.1 L1202.7 1358.0 L1212.3 1356.6 L1223.3 1358.0 L1232.9 1356.6 L1242.5 1353.2 L1253.5 1353.2 L1264.5 1352.5 L1275.5 1353.9 L1283.7 1355.2 L1292.0 1357.3 L1304.3 1350.4 L1308.5 1351.1 L1310.0 1353.3 L1317.3 1355.2 L1330.1 1349.7 L1346.6 1342.3 L1364.9 1344.2 L1377.8 1345.1 L1392.4 1339.6 L1408.9 1337.8 L1423.6 1341.4 L1438.2 1335.9 L1460.2 1334.5 L1471.2 1337.8 L1485.8 1335.0 L1504.1 1333.2 L1517.0 1324.9 L1527.9 1327.7 L1538.9 1329.5 L1548.1 1325.9 L1566.4 1324.0 L1584.7 1320.4 L1603.0 1319.5 L1617.7 1316.7 L1636.0 1316.7 L1654.3 1315.8 L1667.1 1311.2 L1681.8 1311.2 L1691.0 1308.5" fill="none" stroke="#FF0000" stroke-width="5.56" stroke-linejoin="round"/>
</g>
<text x="170.0" y="1299.0" font-size="22.22" fill="#000">Daily Min/Max Temps</text>
<text x="170.0" y="1513.6" font-size="22.22" fill="#1470C8">Freeze days: 143 (avg. 133)</text>
<rect x="1493.20" y="1446.40" width="173.00" height="54.90" fill="#fff" stroke="#262626" stroke-width="5.56"/>
<line x1="1501.40" y1="1462.00" x2="1585.30" y2="1462.00" stroke="#0000FF" stroke-width="5.56"/>
<line x1="1501.40" y1="1485.70" x2="1585.30" y2="1485.70" stroke="#FF0000" stroke-width="5.56"/>
<text x="1592.0" y="1468.0" font-size="16.67" fill="#000">Avg Min</text>
<text x="1592.0" y="1491.7" font-size="16.67" fill="#000">Avg Max</text>
<line x1="351.27" y1="1275.50" x2="351.27" y2="1293.00" stroke="#262626" stroke-width="5.56"/>
<line x1="351.27" y1="1529.70" x2="351.27" y2="1512.20" stroke="#262626" stroke-width="5.56"/>
<line x1="542.18" y1="1275.50" x2="542.18" y2="1293.00" stroke="#262626" stroke-width="5.56"/>
<line x1="542.18" y1="1529.70" x2="542.18" y2="1512.20" stroke="#262626" stroke-width="5.56"/>
<line x1="739.45" y1="1275.50" x2="739.45" y2="1293.00" stroke="#262626" stroke-width="5.56"/>
<line x1="739.45" y1="1529.70" x2="739.45" y2="1512.20" stroke="#262626" stroke-width="5.56"/>
<line x1="936.73" y1="1275.50" x2="936.73" y2="1293.00" stroke="#262626" stroke-width="5.56"/>
<line x1="936.73" y1="1529.70" x2="936.73" y2="1512.20" stroke="#262626" stroke-width="5.56"/>
<line x1="1114.91" y1="1275.50" x2="1114.91" y2="1293.00" stroke="#262626" stroke-width="5.56"/>
<line x1="1114.91" y1="1529.70" x2="1114.91" y2="1512.20" stroke="#262626" stroke-width="5.56"/>
<line x1="1312.18" y1="1275.50" x2="1312.18" y2="1293.00" stroke="#262626" stroke-width="5.56"/>
<line x1="1312.18" y1="1529.70" x2="1312.18" y2="1512.20" stroke="#262626" stroke-width="5.56"/>
<line x1="1503.09" y1="1275.50" x2="1503.09" y2="1293.00" stroke="#262626" stroke-width="5.56"/>
<line x1="1503.09" y1="1529.70" x2="1503.09" y2="1512.20" stroke="#262626" stroke-width="5.56"/>
<line x1="154.00" y1="1497.00" x2="171.50" y2="1497.00" stroke="#262626" stroke-width="5.56"/>
<line x1="1694.00" y1="1497.00" x2="1676.50" y2="1497.00" stroke="#262626" stroke-width="5.56"/>
<line x1="154.00" y1="1387.00" x2="171.50" y2="1387.00" stroke="#262626" stroke-width="5.56"/>
<line x1="1694.00" y1="1387.00" x2="1676.50" y2="1387.00" stroke="#262626" stroke-width="5.56"/>
<line x1="154.00" y1="1277.00" x2="171.50" y2="1277.00" stroke="#262626" stroke-width="5.56"/>
<line x1="1694.00" y1="1277.00" x2="1676.50" y2="1277.00" stroke="#262626" stroke-width="5.56"/>
<rect x="154.00" y="1275.50" width="1540.00" height="254.20" fill="none" stroke="#262626" stroke-width="5.56"/>
<text x="142.9" y="1507.9" font-size="27.78" text-anchor="end" fill="#262626">0</text>
<text x="142.9" y="1397.9" font-size="27.78" text-anchor="end" fill="#262626">50</text>
<text x="142.9" y="1287.9" font-size="27.78" text-anchor="end" fill="#262626">100</text>
<text x="153.5" y="1569.0" font-size="27.78" text-anchor="middle" fill="#262626">Oct-1</text>
<text x="350.8" y="1569.0" font-size="27.78" text-anchor="middle" fill="#262626">Nov-1</text>
<text x="541.7" y="1569.0" font-size="27.78" text-anchor="middle" fill="#262626">Dec-1</text>
<text x="739.0" y="1569.0" font-size="27.78" text-anchor="middle" fill="#262626">Jan-1</text>
<text x="936.2" y="1569.0" font-size="27.78" text-anchor="middle" fill="#262626">Feb-1</text>
<text x="1114.4" y="1569.0" font-size="27.78" text-anchor="middle" fill="#262626">Mar-1</text>
<text x="1311.7" y="1569.0" font-size="27.78" text-anchor="middle" fill="#262626">Apr-1</text>
<text x="1502.6" y="1569.0" font-size="27.78" text-anchor="middle" fill="#262626">May-1</text>
<text x="81.5" y="1402.6" font-size="30.20" text-anchor="middle" fill="#262626" transform="rotate(-90 81.5 1402.6)">°F</text>
</g>
<g id="right">
<rect x="1760.10" y="102.30" width="417.70" height="322.30" fill="none" stroke="#000" stroke-width="5.7"/>
<text x="1774.8" y="143.7" font-size="33.33" font-weight="bold" fill="#000">WINSLOW MUNI AP</text>
<text x="1774.8" y="185.8" font-size="27.78" fill="#000">Elevation: 1489m</text>
<text x="1774.8" y="221.4" font-size="27.78" fill="#000">Period of record: 1947-2018</text>
<text x="1774.8" y="256.9" font-size="27.78" fill="#000">Years in record: 72</text>
<text x="1774.8" y="292.2" font-size="27.78" fill="#000">Precip rank: <tspan fill="#E8101A">29</tspan> (1,wettest)</text>
<text x="1774.8" y="327.4" font-size="27.78" fill="#000">Temp rank: <tspan fill="#E8101A">22</tspan> (1,warmest)</text>
<text x="1774.8" y="362.6" font-size="27.78" fill="#000">Missing in 2014: 0 days</text>
<text x="1774.8" y="397.6" font-size="27.78" fill="#000">Total snow: <tspan fill="#0000E0">NA</tspan> in. (0 %avg)</text>
<rect x="2068.00" y="442.20" width="109.60" height="339.50" fill="#fff"/>
<rect x="1914.00" y="442.20" width="109.40" height="339.50" fill="#fff"/>
<rect x="1760.00" y="442.20" width="109.60" height="339.50" fill="#fff"/>
<text x="2058.1" y="790.5" font-size="22.22" text-anchor="end" fill="#262626">0</text>
<text x="2058.1" y="722.3" font-size="22.22" text-anchor="end" fill="#262626">0.05</text>
<text x="2058.1" y="654.1" font-size="22.22" text-anchor="end" fill="#262626">0.1</text>
<text x="2058.1" y="585.9" font-size="22.22" text-anchor="end" fill="#262626">0.15</text>
<text x="2058.1" y="517.7" font-size="22.22" text-anchor="end" fill="#262626">0.2</text>
<text x="1903.9" y="790.5" font-size="22.22" text-anchor="end" fill="#262626">0</text>
<text x="1903.9" y="733.0" font-size="22.22" text-anchor="end" fill="#262626">10</text>
<text x="1903.9" y="675.4" font-size="22.22" text-anchor="end" fill="#262626">20</text>
<text x="1903.9" y="617.9" font-size="22.22" text-anchor="end" fill="#262626">30</text>
<text x="1903.9" y="560.4" font-size="22.22" text-anchor="end" fill="#262626">40</text>
<text x="1903.9" y="502.9" font-size="22.22" text-anchor="end" fill="#262626">50</text>
<text x="1749.6" y="790.5" font-size="22.22" text-anchor="end" fill="#262626">0</text>
<text x="1749.6" y="698.3" font-size="22.22" text-anchor="end" fill="#262626">2</text>
<text x="1749.6" y="606.2" font-size="22.22" text-anchor="end" fill="#262626">4</text>
<text x="1749.6" y="514.1" font-size="22.22" text-anchor="end" fill="#262626">6</text>
<rect x="2104.35" y="442.20" width="36.90" height="339.50" fill="#FFD700" stroke="#0a1414" stroke-width="1.1"/>
<line x1="2068.00" y1="611.88" x2="2177.60" y2="611.88" stroke="#D95319" stroke-width="5.0"/>
<text x="2122.5" y="484.7" font-size="22.22" text-anchor="middle" fill="#000">0.27</text>
<text x="2132.8" y="764.2" font-size="27.78" font-style="italic" fill="#000" transform="rotate(-90 2132.8 764.2)">in/day</text>
<line x1="2068.00" y1="713.50" x2="2074.00" y2="713.50" stroke="#262626" stroke-width="5.56"/>
<line x1="2177.60" y1="713.50" x2="2171.60" y2="713.50" stroke="#262626" stroke-width="5.56"/>
<line x1="2068.00" y1="645.30" x2="2074.00" y2="645.30" stroke="#262626" stroke-width="5.56"/>
<line x1="2177.60" y1="645.30" x2="2171.60" y2="645.30" stroke="#262626" stroke-width="5.56"/>
<line x1="2068.00" y1="577.10" x2="2074.00" y2="577.10" stroke="#262626" stroke-width="5.56"/>
<line x1="2177.60" y1="577.10" x2="2171.60" y2="577.10" stroke="#262626" stroke-width="5.56"/>
<line x1="2068.00" y1="508.90" x2="2074.00" y2="508.90" stroke="#262626" stroke-width="5.56"/>
<line x1="2177.60" y1="508.90" x2="2171.60" y2="508.90" stroke="#262626" stroke-width="5.56"/>
<line x1="2122.80" y1="442.20" x2="2122.80" y2="448.20" stroke="#262626" stroke-width="5.56"/>
<line x1="2122.80" y1="781.70" x2="2122.80" y2="775.70" stroke="#262626" stroke-width="5.56"/>
<rect x="2068.00" y="442.20" width="109.60" height="339.50" fill="none" stroke="#262626" stroke-width="5.56"/>
<text x="2123.3" y="813.9" font-size="22.22" text-anchor="middle" fill="#262626">Intensity</text>
<rect x="1950.25" y="695.44" width="36.90" height="86.26" fill="#7CFC00" stroke="#0a1414" stroke-width="1.1"/>
<line x1="1914.00" y1="611.89" x2="2023.40" y2="611.89" stroke="#D95319" stroke-width="5.0"/>
<text x="1968.4" y="484.7" font-size="22.22" text-anchor="middle" fill="#000">15</text>
<text x="1978.7" y="764.2" font-size="27.78" font-style="italic" fill="#000" transform="rotate(-90 1978.7 764.2)">days</text>
<line x1="1914.00" y1="724.20" x2="1920.00" y2="724.20" stroke="#262626" stroke-width="5.56"/>
<line x1="2023.40" y1="724.20" x2="2017.40" y2="724.20" stroke="#262626" stroke-width="5.56"/>
<line x1="1914.00" y1="666.69" x2="1920.00" y2="666.69" stroke="#262626" stroke-width="5.56"/>
<line x1="2023.40" y1="666.69" x2="2017.40" y2="666.69" stroke="#262626" stroke-width="5.56"/>
<line x1="1914.00" y1="609.19" x2="1920.00" y2="609.19" stroke="#262626" stroke-width="5.56"/>
<line x1="2023.40" y1="609.19" x2="2017.40" y2="609.19" stroke="#262626" stroke-width="5.56"/>
<line x1="1914.00" y1="551.69" x2="1920.00" y2="551.69" stroke="#262626" stroke-width="5.56"/>
<line x1="2023.40" y1="551.69" x2="2017.40" y2="551.69" stroke="#262626" stroke-width="5.56"/>
<line x1="1914.00" y1="494.18" x2="1920.00" y2="494.18" stroke="#262626" stroke-width="5.56"/>
<line x1="2023.40" y1="494.18" x2="2017.40" y2="494.18" stroke="#262626" stroke-width="5.56"/>
<line x1="1968.70" y1="442.20" x2="1968.70" y2="448.20" stroke="#262626" stroke-width="5.56"/>
<line x1="1968.70" y1="781.70" x2="1968.70" y2="775.70" stroke="#262626" stroke-width="5.56"/>
<rect x="1914.00" y="442.20" width="109.40" height="339.50" fill="none" stroke="#262626" stroke-width="5.56"/>
<text x="1969.2" y="813.9" font-size="22.22" text-anchor="middle" fill="#262626">Rain Days</text>
<rect x="1796.35" y="594.21" width="36.90" height="187.49" fill="#40E0D0" stroke="#0a1414" stroke-width="1.1"/>
<line x1="1760.00" y1="611.90" x2="1869.60" y2="611.90" stroke="#D95319" stroke-width="5.0"/>
<text x="1762.3" y="627.7" font-size="27.78" fill="#D95319">avg</text>
<text x="1814.5" y="484.7" font-size="22.22" text-anchor="middle" fill="#000">4.07</text>
<text x="1824.8" y="764.2" font-size="27.78" font-style="italic" fill="#000" transform="rotate(-90 1824.8 764.2)">inches</text>
<line x1="1760.00" y1="689.57" x2="1766.00" y2="689.57" stroke="#262626" stroke-width="5.56"/>
<line x1="1869.60" y1="689.57" x2="1863.60" y2="689.57" stroke="#262626" stroke-width="5.56"/>
<line x1="1760.00" y1="597.44" x2="1766.00" y2="597.44" stroke="#262626" stroke-width="5.56"/>
<line x1="1869.60" y1="597.44" x2="1863.60" y2="597.44" stroke="#262626" stroke-width="5.56"/>
<line x1="1760.00" y1="505.31" x2="1766.00" y2="505.31" stroke="#262626" stroke-width="5.56"/>
<line x1="1869.60" y1="505.31" x2="1863.60" y2="505.31" stroke="#262626" stroke-width="5.56"/>
<line x1="1814.80" y1="442.20" x2="1814.80" y2="448.20" stroke="#262626" stroke-width="5.56"/>
<line x1="1814.80" y1="781.70" x2="1814.80" y2="775.70" stroke="#262626" stroke-width="5.56"/>
<rect x="1760.00" y="442.20" width="109.60" height="339.50" fill="none" stroke="#262626" stroke-width="5.56"/>
<text x="1815.3" y="813.9" font-size="22.22" text-anchor="middle" fill="#262626">Precip</text>
<text x="1748.6" y="1079.8" font-size="22.22" text-anchor="end" fill="#262626">0</text>
<text x="1748.6" y="1011.7" font-size="22.22" text-anchor="end" fill="#262626">10</text>
<text x="1748.6" y="943.6" font-size="22.22" text-anchor="end" fill="#262626">20</text>
<text x="1748.6" y="875.5" font-size="22.22" text-anchor="end" fill="#262626">30</text>
<rect x="1760.50" y="866.70" width="417.70" height="204.30" fill="#fff"/>
<rect x="1774.42" y="1050.57" width="111.39" height="20.43" fill="#0072BD" stroke="#0a0a0a" stroke-width="1"/>
<line x1="1830.12" y1="866.70" x2="1830.12" y2="873.00" stroke="#262626" stroke-width="5.56"/>
<line x1="1830.12" y1="1071.00" x2="1830.12" y2="1064.70" stroke="#262626" stroke-width="5.56"/>
<text x="1830.1" y="1103.3" font-size="22.22" text-anchor="middle" fill="#262626">Light</text>
<rect x="1913.66" y="1043.76" width="111.39" height="27.24" fill="#0072BD" stroke="#0a0a0a" stroke-width="1"/>
<line x1="1969.35" y1="866.70" x2="1969.35" y2="873.00" stroke="#262626" stroke-width="5.56"/>
<line x1="1969.35" y1="1071.00" x2="1969.35" y2="1064.70" stroke="#262626" stroke-width="5.56"/>
<text x="1969.3" y="1103.3" font-size="22.22" text-anchor="middle" fill="#262626">Moderate</text>
<rect x="2052.89" y="1016.52" width="111.39" height="54.48" fill="#0072BD" stroke="#0a0a0a" stroke-width="1"/>
<line x1="2108.58" y1="866.70" x2="2108.58" y2="873.00" stroke="#262626" stroke-width="5.56"/>
<line x1="2108.58" y1="1071.00" x2="2108.58" y2="1064.70" stroke="#262626" stroke-width="5.56"/>
<text x="2108.6" y="1103.3" font-size="22.22" text-anchor="middle" fill="#262626">Heavy</text>
<line x1="1760.50" y1="1002.90" x2="1766.80" y2="1002.90" stroke="#262626" stroke-width="5.56"/>
<line x1="2178.20" y1="1002.90" x2="2171.90" y2="1002.90" stroke="#262626" stroke-width="5.56"/>
<line x1="1760.50" y1="934.80" x2="1766.80" y2="934.80" stroke="#262626" stroke-width="5.56"/>
<line x1="2178.20" y1="934.80" x2="2171.90" y2="934.80" stroke="#262626" stroke-width="5.56"/>
<rect x="1760.50" y="866.70" width="417.70" height="204.30" fill="none" stroke="#262626" stroke-width="5.56"/>
<text x="1969.0" y="860.5" font-size="24.44" text-anchor="middle" font-weight="bold" fill="#000">Precip Events</text>
<text x="1780.5" y="892.0" font-size="22.22" fill="#000"># of days</text>
<rect x="1760.60" y="1121.70" width="417.60" height="136.30" fill="none" stroke="#000" stroke-width="5.7"/>
<text x="1774.6" y="1160.6" font-size="30.56" font-weight="bold" fill="#8B4513">Dry Spells</text>
<text x="1774.8" y="1199.7" font-size="27.78" fill="#8B4513">Avg length: 19 days (avg: 11)</text>
<text x="1774.8" y="1233.7" font-size="27.78" fill="#8B4513">Max length: 60 days (avg: 42)</text>
<rect x="2068.00" y="1275.40" width="109.60" height="254.20" fill="#fff"/>
<rect x="1914.00" y="1275.40" width="109.40" height="254.20" fill="#fff"/>
<rect x="1760.00" y="1275.40" width="109.60" height="254.20" fill="#fff"/>
<text x="2057.3" y="1507.8" font-size="22.22" text-anchor="end" fill="#262626">58</text>
<text x="2057.3" y="1456.9" font-size="22.22" text-anchor="end" fill="#262626">60</text>
<text x="2057.3" y="1406.0" font-size="22.22" text-anchor="end" fill="#262626">62</text>
<text x="2057.3" y="1355.1" font-size="22.22" text-anchor="end" fill="#262626">64</text>
<text x="2057.3" y="1304.3" font-size="22.22" text-anchor="end" fill="#262626">66</text>
<text x="1903.4" y="1523.1" font-size="22.22" text-anchor="end" fill="#262626">42</text>
<text x="1903.4" y="1472.2" font-size="22.22" text-anchor="end" fill="#262626">44</text>
<text x="1903.4" y="1421.3" font-size="22.22" text-anchor="end" fill="#262626">46</text>
<text x="1903.4" y="1370.4" font-size="22.22" text-anchor="end" fill="#262626">48</text>
<text x="1903.4" y="1319.5" font-size="22.22" text-anchor="end" fill="#262626">50</text>
<text x="1749.6" y="1538.4" font-size="22.22" text-anchor="end" fill="#262626">26</text>
<text x="1749.6" y="1487.5" font-size="22.22" text-anchor="end" fill="#262626">28</text>
<text x="1749.6" y="1436.6" font-size="22.22" text-anchor="end" fill="#262626">30</text>
<text x="1749.6" y="1385.7" font-size="22.22" text-anchor="end" fill="#262626">32</text>
<text x="1749.6" y="1334.8" font-size="22.22" text-anchor="end" fill="#262626">34</text>
<rect x="2104.35" y="1343.85" width="36.90" height="185.75" fill="#FF0000" stroke="#0a1414" stroke-width="1.1"/>
<line x1="2068.00" y1="1402.37" x2="2177.60" y2="1402.37" stroke="#FCA510" stroke-width="6.0"/>
<text x="2122.5" y="1308.8" font-size="22.22" text-anchor="middle" fill="#000">64.1</text>
<line x1="2068.00" y1="1499.07" x2="2074.00" y2="1499.07" stroke="#262626" stroke-width="5.56"/>
<line x1="2177.60" y1="1499.07" x2="2171.60" y2="1499.07" stroke="#262626" stroke-width="5.56"/>
<line x1="2068.00" y1="1448.17" x2="2074.00" y2="1448.17" stroke="#262626" stroke-width="5.56"/>
<line x1="2177.60" y1="1448.17" x2="2171.60" y2="1448.17" stroke="#262626" stroke-width="5.56"/>
<line x1="2068.00" y1="1397.28" x2="2074.00" y2="1397.28" stroke="#262626" stroke-width="5.56"/>
<line x1="2177.60" y1="1397.28" x2="2171.60" y2="1397.28" stroke="#262626" stroke-width="5.56"/>
<line x1="2068.00" y1="1346.39" x2="2074.00" y2="1346.39" stroke="#262626" stroke-width="5.56"/>
<line x1="2177.60" y1="1346.39" x2="2171.60" y2="1346.39" stroke="#262626" stroke-width="5.56"/>
<line x1="2068.00" y1="1295.50" x2="2074.00" y2="1295.50" stroke="#262626" stroke-width="5.56"/>
<line x1="2177.60" y1="1295.50" x2="2171.60" y2="1295.50" stroke="#262626" stroke-width="5.56"/>
<line x1="2122.80" y1="1275.40" x2="2122.80" y2="1281.40" stroke="#262626" stroke-width="5.56"/>
<line x1="2122.80" y1="1529.60" x2="2122.80" y2="1523.60" stroke="#262626" stroke-width="5.56"/>
<rect x="2068.00" y="1275.40" width="109.60" height="254.20" fill="none" stroke="#262626" stroke-width="5.56"/>
<text x="2123.3" y="1562.0" font-size="22.22" text-anchor="middle" fill="#262626">T-max</text>
<rect x="1950.25" y="1379.47" width="36.90" height="150.13" fill="#40E0D0" stroke="#0a1414" stroke-width="1.1"/>
<line x1="1914.00" y1="1402.37" x2="2023.40" y2="1402.37" stroke="#FCA510" stroke-width="6.0"/>
<text x="1968.4" y="1308.8" font-size="22.22" text-anchor="middle" fill="#000">47.3</text>
<line x1="1914.00" y1="1514.33" x2="1920.00" y2="1514.33" stroke="#262626" stroke-width="5.56"/>
<line x1="2023.40" y1="1514.33" x2="2017.40" y2="1514.33" stroke="#262626" stroke-width="5.56"/>
<line x1="1914.00" y1="1463.44" x2="1920.00" y2="1463.44" stroke="#262626" stroke-width="5.56"/>
<line x1="2023.40" y1="1463.44" x2="2017.40" y2="1463.44" stroke="#262626" stroke-width="5.56"/>
<line x1="1914.00" y1="1412.55" x2="1920.00" y2="1412.55" stroke="#262626" stroke-width="5.56"/>
<line x1="2023.40" y1="1412.55" x2="2017.40" y2="1412.55" stroke="#262626" stroke-width="5.56"/>
<line x1="1914.00" y1="1361.66" x2="1920.00" y2="1361.66" stroke="#262626" stroke-width="5.56"/>
<line x1="2023.40" y1="1361.66" x2="2017.40" y2="1361.66" stroke="#262626" stroke-width="5.56"/>
<line x1="1914.00" y1="1310.77" x2="1920.00" y2="1310.77" stroke="#262626" stroke-width="5.56"/>
<line x1="2023.40" y1="1310.77" x2="2017.40" y2="1310.77" stroke="#262626" stroke-width="5.56"/>
<line x1="1968.70" y1="1275.40" x2="1968.70" y2="1281.40" stroke="#262626" stroke-width="5.56"/>
<line x1="1968.70" y1="1529.60" x2="1968.70" y2="1523.60" stroke="#262626" stroke-width="5.56"/>
<rect x="1914.00" y="1275.40" width="109.40" height="254.20" fill="none" stroke="#262626" stroke-width="5.56"/>
<text x="1969.2" y="1562.0" font-size="22.22" text-anchor="middle" fill="#262626">T-avg</text>
<rect x="1796.35" y="1417.64" width="36.90" height="111.96" fill="#0000FF" stroke="#0a1414" stroke-width="1.1"/>
<line x1="1760.00" y1="1402.37" x2="1869.60" y2="1402.37" stroke="#FCA510" stroke-width="6.0"/>
<text x="1814.5" y="1308.8" font-size="22.22" text-anchor="middle" fill="#000">30.4</text>
<line x1="1760.00" y1="1478.71" x2="1766.00" y2="1478.71" stroke="#262626" stroke-width="5.56"/>
<line x1="1869.60" y1="1478.71" x2="1863.60" y2="1478.71" stroke="#262626" stroke-width="5.56"/>
<line x1="1760.00" y1="1427.82" x2="1766.00" y2="1427.82" stroke="#262626" stroke-width="5.56"/>
<line x1="1869.60" y1="1427.82" x2="1863.60" y2="1427.82" stroke="#262626" stroke-width="5.56"/>
<line x1="1760.00" y1="1376.93" x2="1766.00" y2="1376.93" stroke="#262626" stroke-width="5.56"/>
<line x1="1869.60" y1="1376.93" x2="1863.60" y2="1376.93" stroke="#262626" stroke-width="5.56"/>
<line x1="1760.00" y1="1326.04" x2="1766.00" y2="1326.04" stroke="#262626" stroke-width="5.56"/>
<line x1="1869.60" y1="1326.04" x2="1863.60" y2="1326.04" stroke="#262626" stroke-width="5.56"/>
<line x1="1814.80" y1="1275.40" x2="1814.80" y2="1281.40" stroke="#262626" stroke-width="5.56"/>
<line x1="1814.80" y1="1529.60" x2="1814.80" y2="1523.60" stroke="#262626" stroke-width="5.56"/>
<rect x="1760.00" y="1275.40" width="109.60" height="254.20" fill="none" stroke="#262626" stroke-width="5.56"/>
<text x="1815.3" y="1562.0" font-size="22.22" text-anchor="middle" fill="#262626">T-min</text>
</g>
<g id="footer">
<text x="1510.3" y="1603.0" font-size="19.44" fill="#000">Climate Science Applications Program</text>
<text x="1510.3" y="1627.5" font-size="19.44" fill="#000">University of Arizona Cooperative Extension</text>
<text x="1510.3" y="1651.9" font-size="19.44" fill="#000">http://cals.arizona.edu/climate</text>
<text x="1515.7" y="1676.3" font-size="19.44" fill="#000">Date created: 25-Oct-2018</text>
<path d="M1964.2 1580.8 L2002.9 1580.8 L2002.9 1596.6 L1999.5 1596.6 L2010.4 1625.3 L2016.8 1625.3 L2016.8 1641.9 L1987.2 1641.9 L1987.2 1631.0 L1979.8 1631.0 L1979.8 1641.9 L1950.3 1641.9 L1950.3 1625.3 L1956.8 1625.3 L1967.7 1596.6 L1964.2 1596.6Z" fill="#0F4A94"/>
<path d="M1969.6 1586.0 L1997.6 1586.0 L1997.6 1591.7 L1991.9 1591.7 L2006.6 1630.8 L2011.1 1630.8 L2011.1 1636.7 L1992.1 1636.7 L1992.1 1631.0 L1975.1 1631.0 L1975.1 1636.7 L1955.9 1636.7 L1955.9 1630.8 L1960.6 1630.8 L1975.3 1591.7 L1969.6 1591.7Z" fill="#fff"/>
<path d="M1983.60 1586.69 L2002.09 1631.00 L1993.32 1631.00 L1989.76 1619.87 L1977.44 1619.87 L1973.18 1631.00 L1964.64 1631.00Z M1983.60 1602.33 L1988.82 1615.60 L1978.15 1615.60Z" fill="#E0103C" fill-rule="evenodd"/>
<text x="2019.6" y="1641.8" font-size="8" fill="#8EA5C8">®</text>
<text x="1931.8" y="1660.4" fill="#1E4C8F" stroke="#1E4C8F" stroke-width="0.3" font-size="15.2" textLength="104.2" lengthAdjust="spacingAndGlyphs">T<tspan font-size="11.9">HE</tspan> U<tspan font-size="11.9">NIVERSITY</tspan></text>
<text x="1941.8" y="1676.4" fill="#1E4C8F" stroke="#1E4C8F" stroke-width="0.3" font-size="15.2" textLength="83.2" lengthAdjust="spacingAndGlyphs"><tspan font-size="11.9">OF</tspan> A<tspan font-size="11.9">RIZONA</tspan></text>
<line x1="2051.00" y1="1579.60" x2="2051.00" y2="1677.70" stroke="#4F76AE" stroke-width="1.3"/>
<text x="2067.6" y="1626.0" fill="#0F4A94" stroke="#0F4A94" stroke-width="1.5" font-size="55.5" font-weight="bold" textLength="101.6" lengthAdjust="spacingAndGlyphs">CALS</text>
<line x1="2066.80" y1="1634.70" x2="2170.00" y2="1634.70" stroke="#5C80B4" stroke-width="1.3"/>
<text x="2067.4" y="1653.6" fill="#D81E48" stroke="#D81E48" stroke-width="0.3" font-size="13.6" textLength="95.3" lengthAdjust="spacingAndGlyphs">COOPERATIVE</text>
<text x="2067.4" y="1668.0" fill="#D81E48" stroke="#D81E48" stroke-width="0.3" font-size="13.6" textLength="78.2" lengthAdjust="spacingAndGlyphs">EXTENSION</text>
</g>
</svg>
</body></html>
